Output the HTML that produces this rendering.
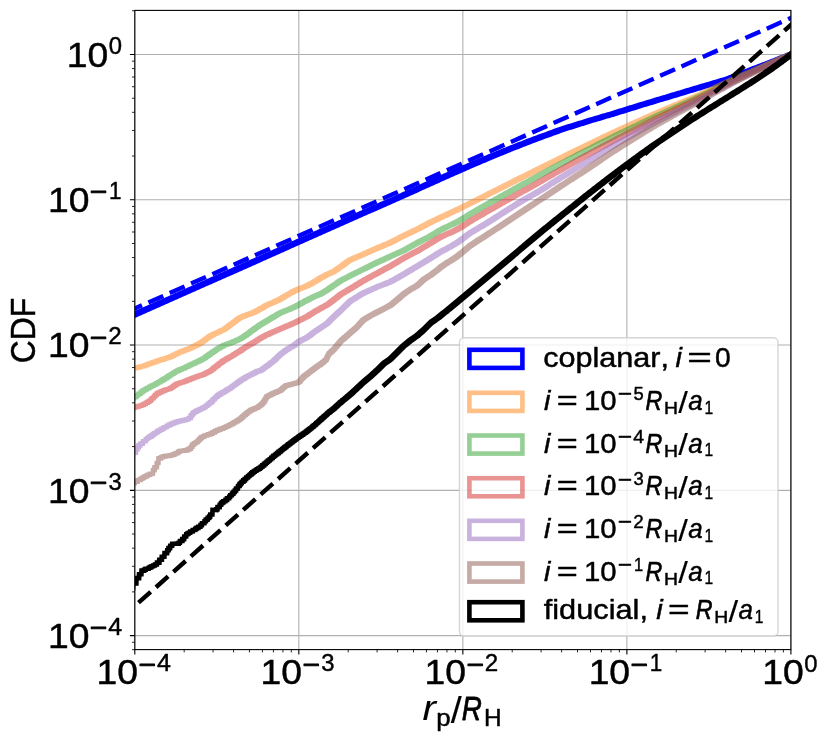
<!DOCTYPE html>
<html><head><meta charset="utf-8"><title>CDF of r_p/R_H</title>
<style>html,body{margin:0;padding:0;background:#fff}svg{display:block}</style></head>
<body>
<svg width="830" height="743" viewBox="0 0 830 743" font-family="'Liberation Sans', sans-serif" style="font-kerning:none;will-change:transform">
<rect width="830" height="743" fill="#fff"/>
<defs><clipPath id="ax"><rect x="134.8" y="10.4" width="656.10" height="639.20"/></clipPath></defs>
<path d="M134.80,10.4V649.6M134.8,635.60H790.9M298.82,10.4V649.6M134.8,490.33H790.9M462.85,10.4V649.6M134.8,345.05H790.9M626.88,10.4V649.6M134.8,199.78H790.9M790.90,10.4V649.6M134.8,54.50H790.9" stroke="#b0b0b0" stroke-width="1.1" fill="none"/>
<g clip-path="url(#ax)">
<polygon points="128.8,313.6 130.3,313.0 131.8,312.3 133.3,311.6 134.8,311.0 136.3,310.3 137.8,309.6 139.3,309.0 140.8,308.3 142.3,307.6 143.8,307.0 145.3,306.3 146.8,305.7 148.3,305.0 149.8,304.3 151.3,303.7 152.8,303.0 154.3,302.3 155.8,301.7 157.3,301.0 158.8,300.3 160.3,299.7 161.8,299.0 163.3,298.3 164.8,297.7 166.3,297.0 167.8,296.4 169.3,295.7 170.8,295.0 172.3,294.4 173.8,293.7 175.3,293.0 176.8,292.4 178.3,291.7 179.8,291.0 181.3,290.4 182.8,289.7 184.3,289.0 185.8,288.4 187.3,287.7 188.8,287.0 190.3,286.4 191.8,285.7 193.3,285.1 194.8,284.4 196.3,283.7 197.8,283.1 199.3,282.4 200.8,281.7 202.3,281.1 203.8,280.4 205.3,279.7 206.8,279.1 208.3,278.4 209.8,277.7 211.3,277.1 212.8,276.4 214.3,275.8 215.8,275.1 217.3,274.4 218.8,273.8 220.3,273.1 221.8,272.4 223.3,271.8 224.8,271.1 226.3,270.4 227.8,269.8 229.3,269.1 230.8,268.4 232.3,267.8 233.8,267.1 235.3,266.5 236.8,265.8 238.3,265.1 239.8,264.5 241.3,263.8 242.8,263.1 244.3,262.5 245.8,261.8 247.3,261.1 248.8,260.4 250.3,259.8 251.8,259.1 253.3,258.4 254.8,257.8 256.3,257.1 257.8,256.4 259.3,255.8 260.8,255.1 262.3,254.4 263.8,253.8 265.3,253.1 266.8,252.4 268.3,251.8 269.8,251.1 271.3,250.4 272.8,249.8 274.3,249.1 275.8,248.4 277.3,247.7 278.8,247.1 280.3,246.4 281.8,245.7 283.3,245.1 284.8,244.4 286.3,243.7 287.8,243.1 289.3,242.4 290.8,241.7 292.3,241.1 293.8,240.4 295.3,239.7 296.8,239.1 298.3,238.4 299.8,237.7 301.3,237.1 302.8,236.4 304.3,235.7 305.8,235.0 307.3,234.4 308.8,233.7 310.3,233.0 311.8,232.4 313.3,231.7 314.8,231.0 316.3,230.4 317.8,229.7 319.3,229.0 320.8,228.4 322.3,227.7 323.8,227.0 325.3,226.4 326.8,225.7 328.3,225.0 329.8,224.4 331.3,223.7 332.8,223.0 334.3,222.3 335.8,221.7 337.3,221.0 338.8,220.3 340.3,219.7 341.8,219.0 343.3,218.3 344.8,217.7 346.3,217.0 347.8,216.3 349.3,215.7 350.8,215.0 352.3,214.3 353.8,213.7 355.3,213.0 356.8,212.4 358.3,211.7 359.8,211.0 361.3,210.4 362.8,209.7 364.3,209.1 365.8,208.4 367.3,207.8 368.8,207.1 370.3,206.5 371.8,205.8 373.3,205.1 374.8,204.5 376.3,203.8 377.8,203.2 379.3,202.5 380.8,201.8 382.3,201.2 383.8,200.5 385.3,199.9 386.8,199.2 388.3,198.5 389.8,197.9 391.3,197.2 392.8,196.5 394.3,195.9 395.8,195.2 397.3,194.5 398.8,193.9 400.3,193.2 401.8,192.5 403.3,191.8 404.8,191.2 406.3,190.5 407.8,189.8 409.3,189.1 410.8,188.4 412.3,187.8 413.8,187.1 415.3,186.4 416.8,185.7 418.3,185.0 419.8,184.4 421.3,183.7 422.8,183.0 424.3,182.3 425.8,181.7 427.3,181.0 428.8,180.3 430.3,179.6 431.8,179.0 433.3,178.3 434.8,177.6 436.3,176.9 437.8,176.3 439.3,175.6 440.8,174.9 442.3,174.3 443.8,173.6 445.3,172.9 446.8,172.3 448.3,171.6 449.8,170.9 451.3,170.3 452.8,169.6 454.3,168.9 455.8,168.3 457.3,167.6 458.8,167.0 460.3,166.3 461.8,165.7 463.3,165.0 464.8,164.4 466.3,163.7 467.8,163.1 469.3,162.4 470.8,161.8 472.3,161.1 473.8,160.5 475.3,159.8 476.8,159.2 478.3,158.6 479.8,157.9 481.3,157.3 482.8,156.7 484.3,156.0 485.8,155.4 487.3,154.8 488.8,154.1 490.3,153.5 491.8,152.9 493.3,152.3 494.8,151.7 496.3,151.0 497.8,150.4 499.3,149.8 500.8,149.2 502.3,148.6 503.8,148.0 505.3,147.4 506.8,146.8 508.3,146.2 509.8,145.6 511.3,145.0 512.8,144.4 514.3,143.8 515.8,143.2 517.3,142.6 518.8,142.0 520.3,141.5 521.8,140.9 523.3,140.3 524.8,139.7 526.3,139.1 527.8,138.6 529.3,138.0 530.8,137.4 532.3,136.8 533.8,136.3 535.3,135.7 536.8,135.2 538.3,134.6 539.8,134.1 541.3,133.5 542.8,132.9 544.3,132.4 545.8,131.9 547.3,131.3 548.8,130.8 550.3,130.2 551.8,129.7 553.3,129.1 554.8,128.6 556.3,128.1 557.8,127.6 559.3,127.1 560.8,126.6 562.3,126.1 563.8,125.6 565.3,125.1 566.8,124.6 568.3,124.1 569.8,123.7 571.3,123.2 572.8,122.7 574.3,122.2 575.8,121.8 577.3,121.3 578.8,120.8 580.3,120.4 581.8,119.9 583.3,119.4 584.8,119.0 586.3,118.5 587.8,118.1 589.3,117.6 590.8,117.2 592.3,116.7 593.8,116.3 595.3,115.8 596.8,115.4 598.3,114.9 599.8,114.5 601.3,114.1 602.8,113.6 604.3,113.2 605.8,112.7 607.3,112.3 608.8,111.9 610.3,111.4 611.8,111.0 613.3,110.5 614.8,110.0 616.3,109.6 617.8,109.1 619.3,108.6 620.8,108.2 622.3,107.7 623.8,107.2 625.3,106.7 626.8,106.3 628.3,105.8 629.8,105.3 631.3,104.9 632.8,104.4 634.3,104.0 635.8,103.5 637.3,103.0 638.8,102.6 640.3,102.1 641.8,101.7 643.3,101.2 644.8,100.7 646.3,100.3 647.8,99.8 649.3,99.4 650.8,98.9 652.3,98.5 653.8,98.0 655.3,97.6 656.8,97.1 658.3,96.7 659.8,96.2 661.3,95.8 662.8,95.3 664.3,94.9 665.8,94.4 667.3,94.0 668.8,93.5 670.3,93.1 671.8,92.6 673.3,92.2 674.8,91.7 676.3,91.3 677.8,90.8 679.3,90.4 680.8,89.9 682.3,89.5 683.8,89.0 685.3,88.6 686.8,88.1 688.3,87.7 689.8,87.2 691.3,86.7 692.8,86.3 694.3,85.8 695.8,85.4 697.3,84.9 698.8,84.5 700.3,84.0 701.8,83.6 703.3,83.2 704.8,82.7 706.3,82.3 707.8,81.9 709.3,81.4 710.8,81.0 712.3,80.6 713.8,80.1 715.3,79.7 716.8,79.2 718.3,78.8 719.8,78.3 721.3,77.8 722.8,77.4 724.3,76.9 725.8,76.4 727.3,75.9 728.8,75.3 730.3,74.8 731.8,74.2 733.3,73.7 734.8,73.1 736.3,72.5 737.8,72.0 739.3,71.4 740.8,70.8 742.3,70.2 743.8,69.6 745.3,69.0 746.8,68.4 748.3,67.8 749.8,67.2 751.3,66.6 752.8,66.0 754.3,65.4 755.8,64.9 757.3,64.3 758.8,63.8 760.3,63.2 761.8,62.6 763.3,62.1 764.8,61.5 766.3,60.9 767.8,60.3 769.3,59.7 770.8,59.1 772.3,58.5 773.8,57.9 775.3,57.3 776.8,56.7 778.3,56.1 779.8,55.5 781.3,54.9 782.8,54.4 784.3,53.8 785.8,53.1 787.3,52.5 788.8,51.9 790.3,51.2 791.8,50.5 793.3,49.8 794.8,49.2 796.3,48.5 797.8,47.8 797.8,54.9 796.3,55.6 794.8,56.3 793.3,57.0 791.8,57.6 790.3,58.2 788.8,58.8 787.3,59.4 785.8,60.0 784.3,60.6 782.8,61.2 781.3,61.8 779.8,62.4 778.3,63.0 776.8,63.6 775.3,64.2 773.8,64.8 772.3,65.4 770.8,66.0 769.3,66.5 767.8,67.1 766.3,67.7 764.8,68.2 763.3,68.8 761.8,69.4 760.3,69.9 758.8,70.5 757.3,71.1 755.8,71.7 754.3,72.3 752.8,72.9 751.3,73.5 749.8,74.1 748.3,74.7 746.8,75.3 745.3,75.9 743.8,76.4 742.3,77.0 740.8,77.6 739.3,78.2 737.8,78.7 736.3,79.3 734.8,79.8 733.3,80.4 731.8,80.9 730.3,81.4 728.8,81.9 727.3,82.4 725.8,82.9 724.3,83.3 722.8,83.8 721.3,84.2 719.8,84.7 718.3,85.1 716.8,85.6 715.3,86.0 713.8,86.4 712.3,86.9 710.8,87.3 709.3,87.8 707.8,88.2 706.3,88.6 704.8,89.0 703.3,89.5 701.8,89.9 700.3,90.4 698.8,90.8 697.3,91.3 695.8,91.8 694.3,92.2 692.8,92.7 691.3,93.1 689.8,93.6 688.3,94.0 686.8,94.5 685.3,94.9 683.8,95.4 682.3,95.8 680.8,96.3 679.3,96.7 677.8,97.2 676.3,97.7 674.8,98.1 673.3,98.6 671.8,99.0 670.3,99.5 668.8,99.9 667.3,100.4 665.8,100.8 664.3,101.2 662.8,101.7 661.3,102.1 659.8,102.6 658.3,103.0 656.8,103.5 655.3,103.9 653.8,104.4 652.3,104.9 650.8,105.3 649.3,105.8 647.8,106.2 646.3,106.7 644.8,107.1 643.3,107.6 641.8,108.1 640.3,108.5 638.8,109.0 637.3,109.4 635.8,109.9 634.3,110.4 632.8,110.8 631.3,111.3 629.8,111.8 628.3,112.2 626.8,112.7 625.3,113.2 623.8,113.7 622.3,114.1 620.8,114.6 619.3,115.1 617.8,115.5 616.3,116.0 614.8,116.4 613.3,116.9 611.8,117.3 610.3,117.8 608.8,118.2 607.3,118.6 605.8,119.1 604.3,119.5 602.8,120.0 601.3,120.4 599.8,120.9 598.3,121.3 596.8,121.7 595.3,122.2 593.8,122.6 592.3,123.1 590.8,123.6 589.3,124.0 587.8,124.5 586.3,124.9 584.8,125.4 583.3,125.9 581.8,126.3 580.3,126.8 578.8,127.3 577.3,127.7 575.8,128.2 574.3,128.7 572.8,129.2 571.3,129.7 569.8,130.1 568.3,130.6 566.8,131.1 565.3,131.6 563.8,132.1 562.3,132.6 560.8,133.1 559.3,133.7 557.8,134.2 556.3,134.7 554.8,135.3 553.3,135.8 551.8,136.4 550.3,136.9 548.8,137.4 547.3,138.0 545.8,138.5 544.3,139.1 542.8,139.7 541.3,140.2 539.8,140.8 538.3,141.3 536.8,141.9 535.3,142.5 533.8,143.0 532.3,143.6 530.8,144.2 529.3,144.8 527.8,145.3 526.3,145.9 524.8,146.5 523.3,147.1 521.8,147.7 520.3,148.3 518.8,148.9 517.3,149.4 515.8,150.0 514.3,150.6 512.8,151.2 511.3,151.8 509.8,152.4 508.3,153.1 506.8,153.7 505.3,154.3 503.8,154.9 502.3,155.5 500.8,156.1 499.3,156.7 497.8,157.3 496.3,158.0 494.8,158.6 493.3,159.2 491.8,159.8 490.3,160.5 488.8,161.1 487.3,161.7 485.8,162.4 484.3,163.0 482.8,163.6 481.3,164.3 479.8,164.9 478.3,165.5 476.8,166.2 475.3,166.8 473.8,167.5 472.3,168.1 470.8,168.8 469.3,169.4 467.8,170.1 466.3,170.7 464.8,171.4 463.3,172.0 461.8,172.7 460.3,173.4 458.8,174.0 457.3,174.7 455.8,175.3 454.3,176.0 452.8,176.7 451.3,177.3 449.8,178.0 448.3,178.7 446.8,179.3 445.3,180.0 443.8,180.7 442.3,181.3 440.8,182.0 439.3,182.7 437.8,183.4 436.3,184.0 434.8,184.7 433.3,185.4 431.8,186.1 430.3,186.7 428.8,187.4 427.3,188.1 425.8,188.8 424.3,189.4 422.8,190.1 421.3,190.8 419.8,191.5 418.3,192.2 416.8,192.9 415.3,193.5 413.8,194.2 412.3,194.9 410.8,195.6 409.3,196.2 407.8,196.9 406.3,197.6 404.8,198.3 403.3,198.9 401.8,199.6 400.3,200.3 398.8,200.9 397.3,201.6 395.8,202.3 394.3,202.9 392.8,203.6 391.3,204.3 389.8,204.9 388.3,205.6 386.8,206.3 385.3,206.9 383.8,207.6 382.3,208.2 380.8,208.9 379.3,209.6 377.8,210.2 376.3,210.9 374.8,211.5 373.3,212.2 371.8,212.8 370.3,213.5 368.8,214.1 367.3,214.8 365.8,215.5 364.3,216.1 362.8,216.8 361.3,217.4 359.8,218.1 358.3,218.8 356.8,219.4 355.3,220.1 353.8,220.7 352.3,221.4 350.8,222.1 349.3,222.7 347.8,223.4 346.3,224.1 344.8,224.7 343.3,225.4 341.8,226.1 340.3,226.8 338.8,227.4 337.3,228.1 335.8,228.8 334.3,229.4 332.8,230.1 331.3,230.8 329.8,231.4 328.3,232.1 326.8,232.8 325.3,233.4 323.8,234.1 322.3,234.8 320.8,235.4 319.3,236.1 317.8,236.8 316.3,237.4 314.8,238.1 313.3,238.8 311.8,239.5 310.3,240.1 308.8,240.8 307.3,241.5 305.8,242.1 304.3,242.8 302.8,243.5 301.3,244.1 299.8,244.8 298.3,245.5 296.8,246.1 295.3,246.8 293.8,247.5 292.3,248.1 290.8,248.8 289.3,249.5 287.8,250.2 286.3,250.8 284.8,251.5 283.3,252.2 281.8,252.8 280.3,253.5 278.8,254.2 277.3,254.8 275.8,255.5 274.3,256.2 272.8,256.8 271.3,257.5 269.8,258.2 268.3,258.8 266.8,259.5 265.3,260.2 263.8,260.8 262.3,261.5 260.8,262.2 259.3,262.9 257.8,263.5 256.3,264.2 254.8,264.9 253.3,265.5 251.8,266.2 250.3,266.9 248.8,267.5 247.3,268.2 245.8,268.9 244.3,269.5 242.8,270.2 241.3,270.9 239.8,271.5 238.3,272.2 236.8,272.9 235.3,273.5 233.8,274.2 232.3,274.9 230.8,275.5 229.3,276.2 227.8,276.8 226.3,277.5 224.8,278.2 223.3,278.8 221.8,279.5 220.3,280.2 218.8,280.8 217.3,281.5 215.8,282.2 214.3,282.8 212.8,283.5 211.3,284.2 209.8,284.8 208.3,285.5 206.8,286.1 205.3,286.8 203.8,287.5 202.3,288.1 200.8,288.8 199.3,289.5 197.8,290.1 196.3,290.8 194.8,291.5 193.3,292.1 191.8,292.8 190.3,293.5 188.8,294.1 187.3,294.8 185.8,295.4 184.3,296.1 182.8,296.8 181.3,297.4 179.8,298.1 178.3,298.8 176.8,299.4 175.3,300.1 173.8,300.8 172.3,301.4 170.8,302.1 169.3,302.8 167.8,303.4 166.3,304.1 164.8,304.7 163.3,305.4 161.8,306.1 160.3,306.7 158.8,307.4 157.3,308.1 155.8,308.7 154.3,309.4 152.8,310.1 151.3,310.7 149.8,311.4 148.3,312.1 146.8,312.7 145.3,313.4 143.8,314.0 142.3,314.7 140.8,315.4 139.3,316.0 137.8,316.7 136.3,317.4 134.8,318.0 133.3,318.7 131.8,319.4 130.3,320.0 128.8,320.7" fill="#0000ff" fill-opacity="1"/>
<polygon points="128.8,367.0 129.1,366.5 130.6,366.5 130.8,366.0 132.8,366.0 133.1,365.6 134.3,365.6 134.6,365.1 136.8,365.1 137.1,364.6 138.1,364.6 138.3,364.2 140.3,364.2 140.6,363.7 142.3,363.7 142.6,363.0 144.1,363.0 144.3,362.4 145.3,362.4 145.6,362.0 146.3,362.0 146.6,361.6 148.1,361.6 148.3,361.0 149.3,361.0 149.6,360.6 150.3,360.6 150.6,360.1 152.3,360.1 152.6,359.3 154.6,359.3 154.8,358.6 156.3,358.6 156.6,358.0 158.1,358.0 158.3,357.6 159.1,357.6 159.3,357.3 160.1,357.3 160.3,356.8 162.1,356.8 162.3,356.4 163.1,356.4 163.3,355.9 164.8,355.9 165.1,355.5 165.8,355.5 166.1,355.1 167.3,355.1 167.6,354.7 168.3,354.7 168.6,354.1 169.8,354.1 170.1,353.4 171.1,353.4 171.3,352.7 172.6,352.7 172.8,352.1 173.6,352.1 173.8,351.4 175.1,351.4 175.3,350.7 176.8,350.7 177.1,349.8 178.6,349.8 178.8,349.3 179.6,349.3 179.8,348.8 180.8,348.8 181.1,348.4 181.8,348.4 182.1,348.1 182.8,348.1 183.1,347.7 183.8,347.7 184.1,347.3 184.6,347.3 184.8,347.0 185.6,347.0 185.8,346.7 186.6,346.7 186.8,346.2 187.8,346.2 188.1,345.8 188.8,345.8 189.1,345.2 190.1,345.2 190.3,344.6 191.1,344.6 191.3,344.0 192.6,344.0 192.8,343.3 193.8,343.3 194.1,342.8 194.6,342.8 194.8,342.3 195.8,342.3 196.1,341.8 196.8,341.8 197.1,341.2 198.1,341.2 198.3,340.3 199.6,340.3 199.8,339.2 201.1,339.2 201.3,338.2 202.3,338.2 202.6,337.3 203.6,337.3 203.8,336.5 204.6,336.5 204.8,335.7 205.8,335.7 206.1,334.8 207.1,334.8 207.3,333.9 208.1,333.9 208.3,333.3 209.3,333.3 209.6,332.8 210.3,332.8 210.6,332.3 211.3,332.3 211.6,331.7 212.6,331.7 212.8,331.3 213.3,331.3 213.6,330.9 214.3,330.9 214.6,330.4 215.3,330.4 215.6,329.9 216.3,329.9 216.6,329.4 217.3,329.4 217.6,329.0 218.1,329.0 218.3,328.6 218.8,328.6 219.1,328.2 220.1,328.2 220.3,327.7 221.1,327.7 221.3,327.2 222.3,327.2 222.6,326.4 223.3,326.4 223.6,325.5 224.6,325.5 224.8,324.8 225.3,324.8 225.6,324.3 226.1,324.3 226.3,323.8 226.6,323.8 226.8,323.2 227.6,323.2 227.8,322.5 228.3,322.5 228.6,322.0 229.1,322.0 229.3,321.4 230.1,321.4 230.3,320.8 230.8,320.8 231.1,320.3 231.3,320.3 231.6,319.7 232.3,319.7 232.6,318.9 233.3,318.9 233.6,318.3 234.1,318.3 234.3,317.7 234.8,317.7 235.1,317.1 235.8,317.1 236.1,316.5 236.6,316.5 236.8,315.9 237.3,315.9 237.6,315.3 238.3,315.3 238.6,315.0 238.8,315.0 239.1,314.7 239.8,314.7 240.1,314.4 240.3,314.4 240.6,314.1 241.1,314.1 241.3,313.8 241.6,313.8 241.8,313.6 242.3,313.6 242.6,313.3 243.3,313.3 243.6,312.9 243.8,312.9 244.1,312.7 244.6,312.7 244.8,312.4 245.3,312.4 245.6,312.1 246.1,312.1 246.3,311.9 246.6,311.9 246.8,311.7 247.6,311.7 247.8,311.4 248.3,311.4 248.6,311.2 248.8,311.2 249.1,311.1 249.3,311.0 249.6,310.9 249.8,310.8 250.1,310.7 250.3,310.6 250.6,310.6 250.6,310.5 252.1,309.8 253.6,309.0 255.1,308.2 256.6,307.4 258.1,306.6 259.6,305.7 261.1,304.9 262.6,304.0 264.1,303.1 265.6,302.4 267.1,301.8 268.6,301.1 270.1,300.5 271.6,299.9 273.1,299.1 274.6,298.4 276.1,297.7 277.6,297.0 279.1,296.2 280.6,295.3 282.1,294.3 283.6,293.4 285.1,292.5 286.6,291.7 288.1,290.9 289.6,290.0 291.1,289.2 292.6,288.5 294.1,287.8 295.6,287.2 297.1,286.5 298.6,285.9 300.1,285.4 301.6,284.8 303.1,284.2 304.6,283.6 306.1,282.8 307.6,282.1 309.1,281.3 310.6,280.5 312.1,279.6 313.6,278.7 315.1,277.7 316.6,276.8 318.1,275.8 319.6,275.0 321.1,274.2 322.6,273.4 324.1,272.6 325.6,271.9 327.1,271.2 328.6,270.5 330.1,269.8 331.6,269.2 333.1,268.2 334.6,267.1 336.1,266.0 337.6,264.9 339.1,263.9 340.6,262.8 342.1,261.7 343.6,260.6 345.1,259.5 346.6,258.5 348.1,257.5 349.6,256.9 351.1,256.2 352.6,255.6 354.1,255.0 355.6,254.3 357.1,253.7 358.6,253.1 360.1,252.4 361.6,251.8 363.1,251.1 364.6,250.4 366.1,249.8 367.6,249.1 369.1,248.4 370.6,247.8 372.1,247.1 373.6,246.4 375.1,245.8 376.6,245.1 378.1,244.5 379.6,243.9 381.1,243.3 382.6,242.6 384.1,242.0 385.6,241.4 387.1,240.8 388.6,240.1 390.1,239.3 391.6,238.5 393.1,237.7 394.6,237.0 396.1,236.2 397.6,235.4 399.1,234.6 400.6,233.9 402.1,233.1 403.6,232.4 405.1,231.7 406.6,231.0 408.1,230.3 409.6,229.6 411.1,228.8 412.6,228.1 414.1,227.4 415.6,226.7 417.1,225.9 418.6,225.1 420.1,224.3 421.6,223.5 423.1,222.7 424.6,221.9 426.1,221.1 427.6,220.3 429.1,219.6 430.6,218.9 432.1,218.1 433.6,217.4 435.1,216.7 436.6,216.0 438.1,215.3 439.6,214.6 441.1,213.9 442.6,213.2 444.1,212.5 445.6,211.8 447.1,211.1 448.6,210.4 450.1,209.7 451.6,209.0 453.1,208.3 454.6,207.6 456.1,206.9 457.6,206.2 459.1,205.4 460.6,204.7 462.1,204.0 463.6,203.2 465.1,202.4 466.6,201.7 468.1,200.9 469.6,200.2 471.1,199.4 472.6,198.7 474.1,197.9 475.6,197.2 477.1,196.4 478.6,195.7 480.1,194.9 481.6,194.2 483.1,193.4 484.6,192.7 486.1,191.9 487.6,191.1 489.1,190.4 490.6,189.6 492.1,188.9 493.6,188.1 495.1,187.4 496.6,186.6 498.1,185.9 499.6,185.1 501.1,184.4 502.6,183.6 504.1,182.9 505.6,182.1 507.1,181.4 508.6,180.6 510.1,179.9 511.6,179.1 513.1,178.3 514.6,177.6 516.1,176.8 517.6,176.1 519.1,175.3 520.6,174.6 522.1,173.9 523.6,173.1 525.1,172.4 526.6,171.6 528.1,170.9 529.6,170.1 531.1,169.4 532.6,168.6 534.1,167.9 535.6,167.1 537.1,166.4 538.6,165.6 540.1,164.9 541.6,164.1 543.1,163.4 544.6,162.6 546.1,161.9 547.6,161.1 549.1,160.4 550.6,159.7 552.1,158.9 553.6,158.2 555.1,157.4 556.6,156.7 558.1,155.9 559.6,155.2 561.1,154.5 562.6,153.7 564.1,153.0 565.6,152.3 567.1,151.5 568.6,150.8 570.1,150.0 571.6,149.3 573.1,148.6 574.6,147.9 576.1,147.1 577.6,146.4 579.1,145.7 580.6,144.9 582.1,144.2 583.6,143.5 585.1,142.8 586.6,142.0 588.1,141.3 589.6,140.6 591.1,139.9 592.6,139.2 594.1,138.4 595.6,137.7 597.1,137.0 598.6,136.3 600.1,135.6 601.6,134.8 603.1,134.1 604.6,133.4 606.1,132.7 607.6,132.0 609.1,131.3 610.6,130.6 612.1,129.9 613.6,129.2 615.1,128.5 616.6,127.8 618.1,127.1 619.6,126.4 621.1,125.7 622.6,125.0 624.1,124.4 625.6,123.7 627.1,123.0 628.6,122.3 630.1,121.6 631.6,121.0 633.1,120.3 634.6,119.6 636.1,118.9 637.6,118.3 639.1,117.6 640.6,116.9 642.1,116.2 643.6,115.6 645.1,114.9 646.6,114.2 648.1,113.5 649.6,112.9 651.1,112.2 652.6,111.5 654.1,110.9 655.6,110.2 657.1,109.6 658.6,109.0 660.1,108.3 661.6,107.7 663.1,107.1 664.6,106.4 666.1,105.8 667.6,105.2 669.1,104.5 670.6,103.9 672.1,103.3 673.6,102.6 675.1,102.0 676.6,101.4 678.1,100.8 679.6,100.1 681.1,99.5 682.6,98.9 684.1,98.2 685.6,97.6 687.1,97.0 688.6,96.4 690.1,95.7 691.6,95.1 693.1,94.4 694.6,93.8 696.1,93.1 697.6,92.4 699.1,91.7 700.6,91.0 702.1,90.3 703.6,89.6 705.1,88.9 706.6,88.2 708.1,87.5 709.6,86.9 711.1,86.2 712.6,85.5 714.1,84.8 715.6,84.1 717.1,83.4 718.6,82.7 720.1,82.0 721.6,81.3 723.1,80.7 724.6,80.0 726.1,79.3 727.6,78.6 729.1,78.0 730.6,77.3 732.1,76.6 733.6,76.0 735.1,75.3 736.6,74.7 738.1,74.1 739.6,73.4 741.1,72.8 742.6,72.1 744.1,71.5 745.6,70.8 747.1,70.2 748.6,69.5 750.1,68.9 751.6,68.3 753.1,67.6 754.6,67.0 756.1,66.3 757.6,65.7 759.1,65.0 760.6,64.4 762.1,63.7 763.6,63.0 765.1,62.4 766.6,61.7 768.1,61.1 769.6,60.4 771.1,59.8 772.6,59.2 774.1,58.5 775.6,57.9 777.1,57.2 778.6,56.6 780.1,55.9 781.6,55.3 783.1,54.6 784.6,53.9 786.1,53.3 787.6,52.6 789.1,52.0 790.6,51.4 792.1,50.8 793.6,50.2 795.1,49.6 796.6,49.0 798.1,48.4 798.1,54.8 796.6,55.4 795.1,56.0 793.6,56.6 792.1,57.3 790.6,57.9 789.1,58.6 787.6,59.2 786.1,59.9 784.6,60.6 783.1,61.2 781.6,61.9 780.1,62.5 778.6,63.2 777.1,63.8 775.6,64.4 774.1,65.1 772.6,65.7 771.1,66.4 769.6,67.0 768.1,67.7 766.6,68.3 765.1,69.0 763.6,69.7 762.1,70.3 760.6,71.0 759.1,71.6 757.6,72.3 756.1,72.9 754.6,73.5 753.1,74.2 751.6,74.8 750.1,75.5 748.6,76.1 747.1,76.8 745.6,77.4 744.1,78.0 742.6,78.7 741.1,79.3 739.6,80.0 738.1,80.6 736.6,81.3 735.1,81.9 733.6,82.6 732.1,83.3 730.6,83.9 729.1,84.6 727.6,85.3 726.1,86.0 724.6,86.7 723.1,87.4 721.6,88.0 720.1,88.7 718.6,89.4 717.1,90.1 715.6,90.8 714.1,91.5 712.6,92.2 711.1,92.9 709.6,93.6 708.1,94.3 706.6,95.0 705.1,95.7 703.6,96.3 702.1,97.0 700.6,97.7 699.1,98.4 697.6,99.1 696.1,99.7 694.6,100.4 693.1,101.0 691.6,101.6 690.1,102.3 688.6,102.9 687.1,103.5 685.6,104.1 684.1,104.8 682.6,105.4 681.1,106.0 679.6,106.7 678.1,107.3 676.6,107.9 675.1,108.6 673.6,109.2 672.1,109.8 670.6,110.4 669.1,111.1 667.6,111.7 666.1,112.3 664.6,113.0 663.1,113.6 661.6,114.2 660.1,114.9 658.6,115.5 657.1,116.2 655.6,116.8 654.1,117.5 652.6,118.2 651.1,118.8 649.6,119.5 648.1,120.2 646.6,120.9 645.1,121.5 643.6,122.2 642.1,122.9 640.6,123.6 639.1,124.2 637.6,124.9 636.1,125.6 634.6,126.3 633.1,127.0 631.6,127.6 630.1,128.3 628.6,129.0 627.1,129.7 625.6,130.4 624.1,131.1 622.6,131.7 621.1,132.4 619.6,133.1 618.1,133.8 616.6,134.5 615.1,135.2 613.6,135.9 612.1,136.6 610.6,137.4 609.1,138.1 607.6,138.8 606.1,139.5 604.6,140.2 603.1,140.9 601.6,141.6 600.1,142.4 598.6,143.1 597.1,143.8 595.6,144.5 594.1,145.2 592.6,146.0 591.1,146.7 589.6,147.4 588.1,148.1 586.6,148.9 585.1,149.6 583.6,150.3 582.1,151.0 580.6,151.8 579.1,152.5 577.6,153.2 576.1,154.0 574.6,154.7 573.1,155.4 571.6,156.2 570.1,156.9 568.6,157.6 567.1,158.4 565.6,159.1 564.1,159.8 562.6,160.6 561.1,161.3 559.6,162.1 558.1,162.8 556.6,163.6 555.1,164.3 553.6,165.0 552.1,165.8 550.6,166.5 549.1,167.3 547.6,168.0 546.1,168.8 544.6,169.5 543.1,170.3 541.6,171.0 540.1,171.8 538.6,172.5 537.1,173.3 535.6,174.0 534.1,174.8 532.6,175.5 531.1,176.3 529.6,177.0 528.1,177.8 526.6,178.5 525.1,179.3 523.6,180.0 522.1,180.7 520.6,181.5 519.1,182.2 517.6,183.0 516.1,183.8 514.6,184.5 513.1,185.3 511.6,186.0 510.1,186.8 508.6,187.5 507.1,188.3 505.6,189.0 504.1,189.8 502.6,190.5 501.1,191.3 499.6,192.0 498.1,192.8 496.6,193.5 495.1,194.3 493.6,195.0 492.1,195.8 490.6,196.6 489.1,197.3 487.6,198.1 486.1,198.8 484.6,199.6 483.1,200.3 481.6,201.1 480.1,201.8 478.6,202.6 477.1,203.3 475.6,204.1 474.1,204.8 472.6,205.6 471.1,206.3 469.6,207.1 468.1,207.8 466.6,208.6 465.1,209.3 463.6,210.1 462.1,210.8 460.6,211.5 459.1,212.3 457.6,212.9 456.1,213.6 454.6,214.3 453.1,215.0 451.6,215.8 450.1,216.5 448.6,217.2 447.1,217.9 445.6,218.6 444.1,219.3 442.6,219.9 441.1,220.6 439.6,221.4 438.1,222.1 436.6,222.8 435.1,223.5 433.6,224.2 432.1,225.0 430.6,225.8 429.1,226.6 427.6,227.4 426.1,228.2 424.6,229.0 423.1,229.8 421.6,230.5 420.1,231.3 418.6,232.1 417.1,232.8 415.6,233.5 414.1,234.2 412.6,234.9 411.1,235.6 409.6,236.3 408.1,237.0 406.6,237.7 405.1,238.5 403.6,239.3 402.1,240.1 400.6,240.8 399.1,241.6 397.6,242.4 396.1,243.2 394.6,243.9 393.1,244.7 391.6,245.4 390.1,246.0 388.6,246.6 387.1,247.3 385.6,247.9 384.1,248.5 382.6,249.2 381.1,249.8 379.6,250.4 378.1,251.1 376.6,251.7 375.1,252.4 373.6,253.1 372.1,253.7 370.6,254.4 369.1,255.1 367.6,255.7 366.1,256.4 364.6,257.1 363.1,257.7 361.6,258.3 360.1,259.0 358.6,259.6 357.1,260.2 355.6,260.9 354.1,261.5 352.6,262.2 351.1,263.1 349.6,264.2 348.1,265.3 346.6,266.4 345.1,267.5 343.6,268.5 342.1,269.6 340.6,270.7 339.1,271.8 337.6,272.8 336.1,273.8 334.6,274.5 333.1,275.2 331.6,275.8 330.1,276.5 328.6,277.3 327.1,278.1 325.6,278.9 324.1,279.7 322.6,280.5 321.1,281.5 319.6,282.4 318.1,283.3 316.6,284.3 315.1,285.1 313.6,285.9 312.1,286.7 310.6,287.5 309.1,288.2 307.6,288.8 306.1,289.4 304.6,290.0 303.1,290.6 301.6,291.2 300.1,291.8 298.6,292.5 297.1,293.1 295.6,293.9 294.1,294.7 292.6,295.5 291.1,296.3 289.6,297.2 288.1,298.1 286.6,299.0 285.1,299.9 283.6,300.8 282.1,301.7 280.6,302.4 279.1,303.1 277.6,303.8 276.1,304.5 274.6,305.1 273.1,305.8 271.6,306.4 270.1,307.1 268.6,307.8 267.1,308.7 265.6,309.5 264.1,310.4 262.6,311.3 261.1,312.1 259.6,312.9 258.1,313.7 256.6,314.5 255.1,315.2 253.6,315.7 252.1,316.3 250.6,316.7 250.3,316.7 250.1,317.0 249.3,317.0 249.1,317.3 248.8,317.3 248.6,317.5 248.1,317.5 247.8,317.9 247.3,317.9 247.1,318.2 246.6,318.2 246.3,318.4 246.1,318.4 245.8,318.7 245.3,318.7 245.1,319.0 244.6,319.0 244.3,319.3 243.8,319.3 243.6,319.6 243.1,319.6 242.8,319.9 242.1,319.9 241.8,320.5 241.6,320.5 241.3,321.1 240.6,321.1 240.3,321.7 239.8,321.7 239.6,322.3 238.8,322.3 238.6,322.9 238.1,322.9 237.8,323.5 237.1,323.5 236.8,324.3 236.1,324.3 235.8,324.9 235.6,324.9 235.3,325.4 234.8,325.4 234.6,326.0 233.8,326.0 233.6,326.6 233.3,326.6 233.1,327.1 232.6,327.1 232.3,327.8 231.6,327.8 231.3,328.4 230.8,328.4 230.6,328.9 230.1,328.9 229.8,329.4 229.3,329.4 229.1,330.1 228.3,330.1 228.1,331.0 227.1,331.0 226.8,331.8 226.1,331.8 225.8,332.3 224.8,332.3 224.6,332.8 223.8,332.8 223.6,333.2 223.1,333.2 222.8,333.6 222.1,333.6 221.8,334.0 221.3,334.0 221.1,334.5 220.1,334.5 219.8,335.0 219.1,335.0 218.8,335.5 218.3,335.5 218.1,335.9 217.3,335.9 217.1,336.3 216.1,336.3 215.8,336.9 215.3,336.9 215.1,337.4 214.1,337.4 213.8,337.9 213.1,337.9 212.8,338.5 212.1,338.5 211.8,339.4 210.6,339.4 210.3,340.3 209.3,340.3 209.1,341.1 208.3,341.1 208.1,341.9 207.3,341.9 207.1,342.8 205.8,342.8 205.6,343.8 204.3,343.8 204.1,344.9 202.8,344.9 202.6,345.8 201.6,345.8 201.3,346.4 200.8,346.4 200.6,346.9 199.6,346.9 199.3,347.4 198.8,347.4 198.6,347.9 197.6,347.9 197.3,348.6 196.1,348.6 195.8,349.2 195.1,349.2 194.8,349.8 193.6,349.8 193.3,350.4 192.8,350.4 192.6,350.8 191.3,350.8 191.1,351.3 190.6,351.3 190.3,351.6 189.6,351.6 189.3,351.9 188.6,351.9 188.3,352.3 187.6,352.3 187.3,352.7 186.8,352.7 186.6,353.0 185.8,353.0 185.6,353.4 184.6,353.4 184.3,353.9 183.3,353.9 183.1,354.4 181.6,354.4 181.3,355.3 180.1,355.3 179.8,356.0 178.6,356.0 178.3,356.7 177.3,356.7 177.1,357.3 176.1,357.3 175.8,358.0 174.8,358.0 174.6,358.7 173.3,358.7 173.1,359.3 172.1,359.3 171.8,359.7 170.6,359.7 170.3,360.1 169.8,360.1 169.6,360.5 167.8,360.5 167.6,361.0 166.8,361.0 166.6,361.4 165.1,361.4 164.8,361.9 164.1,361.9 163.8,362.2 163.1,362.2 162.8,362.6 161.1,362.6 160.8,363.2 159.3,363.2 159.1,363.9 157.3,363.9 157.1,364.7 155.3,364.7 155.1,365.2 154.3,365.2 154.1,365.6 152.8,365.6 152.6,366.2 151.3,366.2 151.1,366.6 150.1,366.6 149.8,367.0 149.1,367.0 148.8,367.6 147.3,367.6 147.1,368.3 145.1,368.3 144.8,368.8 143.1,368.8 142.8,369.2 141.6,369.2 141.3,369.7 139.3,369.7 139.1,370.2 137.8,370.2 137.6,370.6 135.3,370.6 135.1,371.1 133.6,371.1 133.3,371.6 131.8,371.6 131.6,372.1 129.3,372.1 129.1,372.6 128.8,372.6" fill="#ff7f0e" fill-opacity="0.5"/>
<polygon points="128.8,397.0 129.6,397.0 129.8,395.9 131.8,395.9 132.1,394.6 134.1,394.6 134.3,393.0 136.1,393.0 136.3,391.4 138.3,391.4 138.6,389.8 140.1,389.8 140.3,388.6 141.3,388.6 141.6,387.7 143.1,387.7 143.3,386.8 144.6,386.8 144.8,385.8 146.8,385.8 147.1,384.7 148.3,384.7 148.6,384.0 149.3,384.0 149.6,383.3 151.3,383.3 151.6,382.4 152.8,382.4 153.1,381.8 153.8,381.8 154.1,381.0 155.6,381.0 155.8,379.9 157.6,379.9 157.8,378.9 159.1,378.9 159.3,378.1 160.3,378.1 160.6,377.1 162.3,377.1 162.6,375.9 164.1,375.9 164.3,374.9 165.3,374.9 165.6,374.1 166.6,374.1 166.8,373.2 168.3,373.2 168.6,372.2 169.6,372.2 169.8,371.4 171.1,371.4 171.3,370.4 172.8,370.4 173.1,369.2 174.8,369.2 175.1,368.3 176.3,368.3 176.6,367.7 177.3,367.7 177.6,367.1 179.3,367.1 179.6,366.5 180.6,366.5 180.8,365.9 182.1,365.9 182.3,365.2 183.6,365.2 183.8,364.5 185.1,364.5 185.3,363.8 186.6,363.8 186.8,363.2 187.3,363.2 187.6,362.7 188.6,362.7 188.8,362.2 189.8,362.2 190.1,361.5 191.6,361.5 191.8,360.8 192.6,360.8 192.8,360.2 194.1,360.2 194.3,359.5 195.8,359.5 196.1,358.9 196.6,358.9 196.8,358.3 197.8,358.3 198.1,357.8 199.1,357.8 199.3,357.2 200.1,357.2 200.3,356.5 201.6,356.5 201.8,355.9 202.3,355.9 202.6,355.3 203.3,355.3 203.6,354.6 204.1,354.6 204.3,354.0 205.1,354.0 205.3,353.3 206.1,353.3 206.3,352.5 207.1,352.5 207.3,351.8 208.3,351.8 208.6,351.0 209.3,351.0 209.6,350.3 210.3,350.3 210.6,349.5 211.6,349.5 211.8,348.9 212.3,348.9 212.6,348.3 213.3,348.3 213.6,347.7 214.1,347.7 214.3,347.0 215.3,347.0 215.6,346.2 216.6,346.2 216.8,345.6 217.3,345.6 217.6,345.0 218.8,345.0 219.1,344.3 219.8,344.3 220.1,343.7 221.1,343.7 221.3,343.0 222.3,343.0 222.6,342.7 223.1,342.7 223.3,342.4 223.8,342.4 224.1,342.0 225.1,342.0 225.3,341.7 225.8,341.7 226.1,341.3 226.8,341.3 227.1,341.0 227.8,341.0 228.1,340.7 228.6,340.7 228.8,340.3 229.8,340.3 230.1,339.9 230.6,339.9 230.8,339.6 231.3,339.6 231.6,339.2 232.1,339.2 232.3,338.9 232.8,338.9 233.1,338.6 233.8,338.6 234.1,338.1 234.8,338.1 235.1,337.8 235.6,337.8 235.8,337.4 236.3,337.4 236.6,337.0 237.3,337.0 237.6,336.5 238.3,336.5 238.6,336.0 239.1,336.0 239.3,335.4 240.1,335.4 240.3,334.9 240.8,334.9 241.1,334.4 241.6,334.4 241.8,334.0 242.3,334.0 242.6,333.6 242.8,333.6 243.1,333.1 243.6,333.1 243.8,332.6 244.6,332.6 244.8,332.0 245.3,332.0 245.6,331.4 246.1,331.4 246.3,330.7 246.8,330.7 247.1,330.2 247.6,330.2 247.8,329.6 248.3,329.6 248.6,329.0 249.1,329.0 249.3,328.5 249.8,328.5 250.1,327.8 250.8,327.8 251.1,327.3 251.3,327.3 251.6,326.8 252.1,326.8 252.3,326.3 252.8,326.3 253.1,325.8 253.3,325.8 253.6,325.4 254.1,325.4 254.3,324.9 254.8,324.9 255.1,324.4 255.6,324.4 255.8,323.8 256.3,323.8 256.6,323.3 257.1,323.3 257.3,323.0 257.6,323.0 257.8,322.6 258.1,322.6 258.3,322.3 258.6,322.2 258.8,322.0 259.1,321.9 259.3,321.7 259.6,321.6 259.8,321.4 260.1,321.3 260.3,321.1 260.5,321.0 262.0,320.1 263.5,319.2 265.0,318.3 266.5,317.4 268.0,316.5 269.5,315.6 271.0,314.7 272.5,313.9 274.0,313.0 275.5,312.1 277.0,311.2 278.5,310.4 280.0,309.8 281.5,309.2 283.0,308.6 284.5,308.0 286.0,307.4 287.5,306.7 289.0,306.1 290.5,305.4 292.0,304.7 293.5,304.0 295.0,303.2 296.5,302.4 298.0,301.6 299.5,300.8 301.0,300.0 302.5,299.1 304.0,298.3 305.5,297.5 307.0,296.7 308.5,296.0 310.0,295.2 311.5,294.5 313.0,293.8 314.5,293.2 316.0,292.6 317.5,292.0 319.0,291.3 320.5,290.4 322.0,289.5 323.5,288.6 325.0,287.7 326.5,286.6 328.0,285.6 329.5,284.5 331.0,283.5 332.5,282.4 334.0,281.4 335.5,280.3 337.0,279.3 338.5,278.3 340.0,277.5 341.5,276.7 343.0,275.9 344.5,275.2 346.0,274.4 347.5,273.6 349.0,272.9 350.5,272.1 352.0,271.4 353.5,270.6 355.0,269.9 356.5,269.2 358.0,268.4 359.5,267.7 361.0,266.9 362.5,266.2 364.0,265.5 365.5,264.7 367.0,264.0 368.5,263.2 370.0,262.5 371.5,261.8 373.0,261.0 374.5,260.3 376.0,259.6 377.5,258.9 379.0,258.2 380.5,257.6 382.0,256.9 383.5,256.2 385.0,255.5 386.5,254.8 388.0,254.2 389.5,253.5 391.0,252.8 392.5,252.1 394.0,251.4 395.5,250.8 397.0,250.1 398.5,249.4 400.0,248.7 401.5,248.1 403.0,247.2 404.5,246.4 406.0,245.6 407.5,244.7 409.0,243.9 410.5,243.0 412.0,242.2 413.5,241.4 415.0,240.5 416.5,239.8 418.0,239.0 419.5,238.2 421.0,237.5 422.5,236.7 424.0,235.9 425.5,235.2 427.0,234.4 428.5,233.6 430.0,232.7 431.5,231.8 433.0,230.9 434.5,230.0 436.0,229.0 437.5,228.1 439.0,227.4 440.5,226.6 442.0,225.8 443.5,225.1 445.0,224.4 446.5,223.7 448.0,223.0 449.5,222.3 451.0,221.5 452.5,220.8 454.0,220.0 455.5,219.3 457.0,218.4 458.5,217.5 460.0,216.7 461.5,215.8 463.0,214.9 464.5,213.9 466.0,213.0 467.5,212.1 469.0,211.2 470.5,210.3 472.0,209.4 473.5,208.5 475.0,207.7 476.5,206.8 478.0,205.9 479.5,205.1 481.0,204.2 482.5,203.4 484.0,202.5 485.5,201.7 487.0,200.8 488.5,200.0 490.0,199.1 491.5,198.3 493.0,197.4 494.5,196.6 496.0,195.7 497.5,194.9 499.0,194.1 500.5,193.2 502.0,192.4 503.5,191.5 505.0,190.7 506.5,189.9 508.0,189.0 509.5,188.2 511.0,187.4 512.5,186.6 514.0,185.7 515.5,184.9 517.0,184.1 518.5,183.3 520.0,182.4 521.5,181.6 523.0,180.8 524.5,180.0 526.0,179.2 527.5,178.4 529.0,177.6 530.5,176.7 532.0,175.9 533.5,175.1 535.0,174.3 536.5,173.5 538.0,172.6 539.5,171.8 541.0,171.0 542.5,170.2 544.0,169.4 545.5,168.6 547.0,167.7 548.5,166.9 550.0,166.1 551.5,165.3 553.0,164.5 554.5,163.7 556.0,162.9 557.5,162.1 559.0,161.3 560.5,160.5 562.0,159.7 563.5,158.9 565.0,158.1 566.5,157.3 568.0,156.5 569.5,155.8 571.0,155.0 572.5,154.2 574.0,153.4 575.5,152.6 577.0,151.8 578.5,151.1 580.0,150.3 581.5,149.5 583.0,148.7 584.5,148.0 586.0,147.2 587.5,146.4 589.0,145.7 590.5,144.9 592.0,144.1 593.5,143.4 595.0,142.6 596.5,141.8 598.0,141.1 599.5,140.3 601.0,139.6 602.5,138.8 604.0,138.1 605.5,137.3 607.0,136.5 608.5,135.8 610.0,135.0 611.5,134.3 613.0,133.5 614.5,132.8 616.0,132.1 617.5,131.3 619.0,130.6 620.5,129.9 622.0,129.2 623.5,128.4 625.0,127.7 626.5,127.0 628.0,126.3 629.5,125.6 631.0,124.8 632.5,124.1 634.0,123.4 635.5,122.7 637.0,122.0 638.5,121.2 640.0,120.5 641.5,119.8 643.0,119.1 644.5,118.4 646.0,117.6 647.5,116.9 649.0,116.2 650.5,115.5 652.0,114.8 653.5,114.1 655.0,113.4 656.5,112.7 658.0,112.1 659.5,111.4 661.0,110.7 662.5,110.0 664.0,109.4 665.5,108.7 667.0,108.0 668.5,107.3 670.0,106.7 671.5,106.0 673.0,105.3 674.5,104.6 676.0,104.0 677.5,103.3 679.0,102.6 680.5,101.9 682.0,101.3 683.5,100.6 685.0,99.9 686.5,99.2 688.0,98.6 689.5,97.9 691.0,97.2 692.5,96.5 694.0,95.8 695.5,95.1 697.0,94.3 698.5,93.6 700.0,92.9 701.5,92.1 703.0,91.4 704.5,90.7 706.0,89.9 707.5,89.2 709.0,88.4 710.5,87.7 712.0,87.0 713.5,86.2 715.0,85.5 716.5,84.8 718.0,84.1 719.5,83.3 721.0,82.6 722.5,81.9 724.0,81.1 725.5,80.4 727.0,79.7 728.5,79.0 730.0,78.3 731.5,77.6 733.0,76.9 734.5,76.2 736.0,75.5 737.5,74.8 739.0,74.1 740.5,73.5 742.0,72.8 743.5,72.1 745.0,71.4 746.5,70.7 748.0,70.1 749.5,69.4 751.0,68.7 752.5,68.1 754.0,67.4 755.5,66.7 757.0,66.0 758.5,65.3 760.0,64.7 761.5,64.0 763.0,63.3 764.5,62.6 766.0,62.0 767.5,61.3 769.0,60.7 770.5,60.0 772.0,59.3 773.5,58.7 775.0,58.0 776.5,57.4 778.0,56.7 779.5,56.1 781.0,55.4 782.5,54.8 784.0,54.1 785.5,53.5 787.0,52.9 788.5,52.2 790.0,51.6 791.5,51.1 793.0,50.5 794.5,49.9 796.0,49.3 797.5,48.7 797.5,55.1 796.0,55.7 794.5,56.3 793.0,56.9 791.5,57.5 790.0,58.1 788.5,58.8 787.0,59.4 785.5,60.1 784.0,60.7 782.5,61.4 781.0,62.0 779.5,62.7 778.0,63.3 776.5,64.0 775.0,64.6 773.5,65.3 772.0,66.0 770.5,66.6 769.0,67.3 767.5,68.0 766.0,68.6 764.5,69.3 763.0,70.0 761.5,70.7 760.0,71.4 758.5,72.0 757.0,72.7 755.5,73.4 754.0,74.0 752.5,74.7 751.0,75.4 749.5,76.1 748.0,76.7 746.5,77.4 745.0,78.1 743.5,78.8 742.0,79.5 740.5,80.2 739.0,80.9 737.5,81.5 736.0,82.2 734.5,82.9 733.0,83.6 731.5,84.3 730.0,85.1 728.5,85.8 727.0,86.5 725.5,87.2 724.0,88.0 722.5,88.7 721.0,89.4 719.5,90.2 718.0,90.9 716.5,91.6 715.0,92.4 713.5,93.1 712.0,93.8 710.5,94.6 709.0,95.3 707.5,96.0 706.0,96.8 704.5,97.5 703.0,98.3 701.5,99.0 700.0,99.7 698.5,100.4 697.0,101.1 695.5,101.8 694.0,102.5 692.5,103.2 691.0,103.9 689.5,104.6 688.0,105.2 686.5,105.9 685.0,106.6 683.5,107.3 682.0,107.9 680.5,108.6 679.0,109.3 677.5,110.0 676.0,110.6 674.5,111.3 673.0,112.0 671.5,112.7 670.0,113.3 668.5,114.0 667.0,114.7 665.5,115.4 664.0,116.0 662.5,116.7 661.0,117.4 659.5,118.1 658.0,118.7 656.5,119.5 655.0,120.2 653.5,120.9 652.0,121.6 650.5,122.3 649.0,123.0 647.5,123.7 646.0,124.4 644.5,125.2 643.0,125.9 641.5,126.6 640.0,127.3 638.5,128.0 637.0,128.8 635.5,129.5 634.0,130.2 632.5,130.9 631.0,131.6 629.5,132.4 628.0,133.1 626.5,133.8 625.0,134.5 623.5,135.3 622.0,136.0 620.5,136.7 619.0,137.5 617.5,138.2 616.0,138.9 614.5,139.7 613.0,140.4 611.5,141.2 610.0,141.9 608.5,142.7 607.0,143.5 605.5,144.2 604.0,145.0 602.5,145.7 601.0,146.5 599.5,147.2 598.0,148.0 596.5,148.8 595.0,149.5 593.5,150.3 592.0,151.1 590.5,151.8 589.0,152.6 587.5,153.4 586.0,154.2 584.5,154.9 583.0,155.7 581.5,156.5 580.0,157.3 578.5,158.1 577.0,158.8 575.5,159.6 574.0,160.4 572.5,161.2 571.0,162.0 569.5,162.8 568.0,163.6 566.5,164.4 565.0,165.2 563.5,166.0 562.0,166.8 560.5,167.6 559.0,168.4 557.5,169.2 556.0,170.0 554.5,170.8 553.0,171.6 551.5,172.4 550.0,173.2 548.5,174.0 547.0,174.8 545.5,175.7 544.0,176.5 542.5,177.3 541.0,178.1 539.5,179.0 538.0,179.8 536.5,180.6 535.0,181.4 533.5,182.2 532.0,183.0 530.5,183.8 529.0,184.6 527.5,185.5 526.0,186.3 524.5,187.1 523.0,187.9 521.5,188.7 520.0,189.5 518.5,190.4 517.0,191.2 515.5,192.0 514.0,192.9 512.5,193.7 511.0,194.5 509.5,195.4 508.0,196.2 506.5,197.0 505.0,197.9 503.5,198.7 502.0,199.6 500.5,200.4 499.0,201.2 497.5,202.1 496.0,202.9 494.5,203.8 493.0,204.6 491.5,205.5 490.0,206.3 488.5,207.2 487.0,208.0 485.5,208.9 484.0,209.7 482.5,210.6 481.0,211.5 479.5,212.3 478.0,213.2 476.5,214.1 475.0,215.0 473.5,215.8 472.0,216.7 470.5,217.7 469.0,218.6 467.5,219.5 466.0,220.4 464.5,221.3 463.0,222.2 461.5,223.1 460.0,223.9 458.5,224.7 457.0,225.4 455.5,226.2 454.0,226.9 452.5,227.6 451.0,228.3 449.5,229.0 448.0,229.7 446.5,230.5 445.0,231.2 443.5,232.0 442.0,232.8 440.5,233.7 439.0,234.6 437.5,235.5 436.0,236.5 434.5,237.4 433.0,238.3 431.5,239.1 430.0,239.8 428.5,240.6 427.0,241.4 425.5,242.1 424.0,242.9 422.5,243.7 421.0,244.4 419.5,245.2 418.0,246.0 416.5,246.9 415.0,247.7 413.5,248.5 412.0,249.4 410.5,250.2 409.0,251.0 407.5,251.9 406.0,252.7 404.5,253.4 403.0,254.1 401.5,254.7 400.0,255.4 398.5,256.1 397.0,256.8 395.5,257.4 394.0,258.1 392.5,258.8 391.0,259.5 389.5,260.2 388.0,260.8 386.5,261.5 385.0,262.2 383.5,262.9 382.0,263.6 380.5,264.2 379.0,264.9 377.5,265.7 376.0,266.4 374.5,267.1 373.0,267.9 371.5,268.6 370.0,269.4 368.5,270.1 367.0,270.9 365.5,271.6 364.0,272.3 362.5,273.1 361.0,273.8 359.5,274.6 358.0,275.3 356.5,276.0 355.0,276.8 353.5,277.5 352.0,278.3 350.5,279.0 349.0,279.8 347.5,280.6 346.0,281.4 344.5,282.1 343.0,282.9 341.5,284.0 340.0,285.0 338.5,286.1 337.0,287.1 335.5,288.1 334.0,289.2 332.5,290.3 331.0,291.3 329.5,292.3 328.0,293.2 326.5,294.1 325.0,295.1 323.5,296.0 322.0,296.7 320.5,297.3 319.0,297.9 317.5,298.5 316.0,299.1 314.5,299.9 313.0,300.6 311.5,301.4 310.0,302.2 308.5,303.0 307.0,303.8 305.5,304.6 304.0,305.4 302.5,306.3 301.0,307.1 299.5,307.9 298.0,308.6 296.5,309.4 295.0,310.1 293.5,310.7 292.0,311.4 290.5,312.0 289.0,312.6 287.5,313.2 286.0,313.8 284.5,314.4 283.0,315.0 281.5,315.8 280.0,316.7 278.5,317.6 277.0,318.5 275.5,319.4 274.0,320.3 272.5,321.2 271.0,322.1 269.5,323.0 268.0,323.9 266.5,324.8 265.0,325.7 263.5,326.6 262.0,327.6 260.5,328.4 260.3,329.0 259.6,329.0 259.3,329.5 258.8,329.5 258.6,330.0 258.3,330.0 258.1,330.4 257.6,330.4 257.3,330.9 257.1,330.9 256.8,331.4 256.1,331.4 255.8,331.9 255.6,331.9 255.3,332.4 254.8,332.4 254.6,333.1 253.8,333.1 253.6,333.6 253.3,333.6 253.1,334.2 252.3,334.2 252.1,334.8 251.8,334.8 251.6,335.3 250.8,335.3 250.6,336.0 250.1,336.0 249.8,336.6 249.3,336.6 249.1,337.2 248.6,337.2 248.3,337.7 247.6,337.7 247.3,338.2 247.1,338.2 246.8,338.6 246.3,338.6 246.1,339.0 245.6,339.0 245.3,339.5 245.1,339.5 244.8,340.0 244.1,340.0 243.8,340.6 243.3,340.6 243.1,341.1 242.3,341.1 242.1,341.6 241.3,341.6 241.1,342.0 240.3,342.0 240.1,342.4 239.6,342.4 239.3,342.7 238.6,342.7 238.3,343.2 237.6,343.2 237.3,343.5 237.1,343.5 236.8,343.8 236.3,343.8 236.1,344.2 235.3,344.2 235.1,344.5 234.6,344.5 234.3,344.9 233.3,344.9 233.1,345.3 232.6,345.3 232.3,345.6 231.8,345.6 231.6,345.9 230.6,345.9 230.3,346.3 229.8,346.3 229.6,346.6 228.6,346.6 228.3,347.0 227.8,347.0 227.6,347.3 227.1,347.3 226.8,347.6 225.8,347.6 225.6,348.3 224.8,348.3 224.6,348.9 223.6,348.9 223.3,349.6 222.3,349.6 222.1,350.2 221.6,350.2 221.3,350.8 220.1,350.8 219.8,351.6 218.8,351.6 218.6,352.3 218.1,352.3 217.8,352.9 217.1,352.9 216.8,353.5 216.3,353.5 216.1,354.1 215.3,354.1 215.1,354.9 214.1,354.9 213.8,355.6 213.1,355.6 212.8,356.4 212.1,356.4 211.8,357.1 211.1,357.1 210.8,357.9 209.8,357.9 209.6,358.6 209.1,358.6 208.8,359.2 208.1,359.2 207.8,359.9 207.1,359.9 206.8,360.5 206.3,360.5 206.1,361.1 205.1,361.1 204.8,361.8 203.8,361.8 203.6,362.4 202.8,362.4 202.6,362.9 201.6,362.9 201.3,363.5 200.6,363.5 200.3,364.1 199.1,364.1 198.8,364.8 197.6,364.8 197.3,365.4 196.3,365.4 196.1,366.1 194.8,366.1 194.6,366.8 193.3,366.8 193.1,367.3 192.3,367.3 192.1,367.8 191.3,367.8 191.1,368.4 189.8,368.4 189.6,369.1 188.3,369.1 188.1,369.8 187.1,369.8 186.8,370.5 185.3,370.5 185.1,371.1 184.1,371.1 183.8,371.7 182.3,371.7 182.1,372.3 181.3,372.3 181.1,372.9 179.6,372.9 179.3,373.8 177.6,373.8 177.3,375.0 175.8,375.0 175.6,376.0 174.3,376.0 174.1,376.8 173.1,376.8 172.8,377.8 171.3,377.8 171.1,378.7 170.3,378.7 170.1,379.5 169.1,379.5 168.8,380.5 167.3,380.5 167.1,381.7 165.3,381.7 165.1,382.7 163.8,382.7 163.6,383.5 162.6,383.5 162.3,384.5 160.6,384.5 160.3,385.6 158.8,385.6 158.6,386.4 157.6,386.4 157.3,387.0 156.1,387.0 155.8,387.9 154.3,387.9 154.1,388.6 153.3,388.6 153.1,389.3 151.6,389.3 151.3,390.4 149.3,390.4 149.1,391.4 147.8,391.4 147.6,392.3 146.3,392.3 146.1,393.2 144.8,393.2 144.6,394.4 143.1,394.4 142.8,396.0 140.8,396.0 140.6,397.6 138.8,397.6 138.6,399.2 136.6,399.2 136.3,400.5 134.3,400.5 134.1,401.6 132.8,401.6 132.6,402.3 131.8,402.3 131.6,403.2 129.6,403.2 129.3,404.3 128.8,404.3" fill="#2ca02c" fill-opacity="0.5"/>
<polygon points="128.8,406.4 129.6,406.4 129.8,405.7 131.8,405.7 132.1,405.2 132.8,405.2 133.1,404.7 134.8,404.7 135.1,404.1 136.6,404.1 136.8,403.4 139.1,403.4 139.3,402.7 141.1,402.7 141.3,401.7 143.3,401.7 143.6,400.5 145.1,400.5 145.3,399.4 146.8,399.4 147.1,398.5 148.3,398.5 148.6,397.4 149.3,397.4 149.6,395.9 151.3,395.9 151.6,394.2 152.6,394.2 152.8,392.7 154.3,392.7 154.6,391.3 155.8,391.3 156.1,390.6 157.1,390.6 157.3,389.8 159.1,389.8 159.3,388.8 161.3,388.8 161.6,388.1 162.1,388.1 162.3,387.8 163.3,387.8 163.6,387.5 164.6,387.5 164.8,387.0 166.8,387.0 167.1,386.5 167.8,386.5 168.1,385.7 169.6,385.7 169.8,384.7 170.8,384.7 171.1,383.7 172.3,383.7 172.6,382.6 174.1,382.6 174.3,381.4 176.1,381.4 176.3,380.9 177.3,380.9 177.6,380.6 178.3,380.6 178.6,380.2 180.1,380.2 180.3,379.7 181.6,379.7 181.8,379.2 183.1,379.2 183.3,378.6 184.6,378.6 184.8,378.1 185.3,378.1 185.6,377.6 187.3,377.6 187.6,377.0 188.1,377.0 188.3,376.6 189.6,376.6 189.8,376.1 190.6,376.1 190.8,375.7 191.3,375.7 191.6,375.2 192.8,375.2 193.1,374.8 193.8,374.8 194.1,374.4 194.8,374.4 195.1,373.9 196.1,373.9 196.3,373.5 197.8,373.5 198.1,373.1 198.8,373.1 199.1,372.7 200.1,372.7 200.3,372.2 201.6,372.2 201.8,371.7 202.6,371.7 202.8,371.2 203.6,371.2 203.8,370.7 204.6,370.7 204.8,370.0 206.1,370.0 206.3,369.4 206.8,369.4 207.1,368.9 208.1,368.9 208.3,368.2 209.3,368.2 209.6,367.4 210.1,367.4 210.3,366.6 211.1,366.6 211.3,365.6 212.6,365.6 212.8,364.6 213.8,364.6 214.1,363.6 215.3,363.6 215.6,362.6 216.3,362.6 216.6,361.6 217.8,361.6 218.1,360.5 219.3,360.5 219.6,359.6 220.1,359.6 220.3,358.8 221.3,358.8 221.6,357.9 222.8,357.9 223.1,357.2 223.8,357.2 224.1,356.6 224.8,356.6 225.1,356.2 225.3,356.2 225.6,355.8 226.1,355.8 226.3,355.4 226.8,355.4 227.1,355.0 227.6,355.0 227.8,354.5 228.8,354.5 229.1,353.9 229.8,353.9 230.1,353.2 230.8,353.2 231.1,352.6 231.8,352.6 232.1,352.0 232.8,352.0 233.1,351.2 234.1,351.2 234.3,350.6 234.8,350.6 235.1,350.0 236.1,350.0 236.3,349.4 236.8,349.4 237.1,348.9 237.6,348.9 237.8,348.4 238.3,348.4 238.6,347.8 239.3,347.8 239.6,347.1 240.3,347.1 240.6,346.5 241.3,346.5 241.6,346.0 242.1,346.0 242.3,345.5 242.6,345.5 242.8,345.0 243.6,345.0 243.8,344.5 244.3,344.5 244.6,343.9 245.3,343.9 245.6,343.4 246.1,343.4 246.3,342.9 247.1,342.9 247.3,342.5 247.6,342.5 247.8,342.1 248.3,342.1 248.6,341.7 249.1,341.7 249.3,341.3 249.8,341.3 250.1,340.8 250.6,340.8 250.8,340.4 251.3,340.4 251.6,340.0 252.1,340.0 252.3,339.5 252.8,339.5 253.1,339.1 253.3,339.1 253.6,338.7 254.1,338.7 254.3,338.3 254.8,338.3 255.1,337.8 255.6,337.8 255.8,337.2 256.6,337.2 256.8,336.7 257.1,336.7 257.3,336.2 258.1,336.2 258.3,335.8 258.6,335.8 258.8,335.4 259.3,335.4 259.6,335.0 260.1,335.0 260.3,334.7 260.6,334.7 260.8,334.3 261.3,334.3 261.6,333.9 262.1,333.9 262.3,333.5 262.8,333.5 263.1,333.2 263.3,333.2 263.6,332.9 264.1,332.9 264.3,332.4 264.8,332.4 265.1,332.1 265.8,332.1 266.1,331.8 266.6,331.8 266.8,331.4 267.1,331.4 267.3,331.1 267.8,331.1 268.1,330.9 268.3,330.8 268.6,330.7 268.8,330.6 269.1,330.5 269.3,330.4 269.6,330.3 269.8,330.2 270.1,330.1 270.3,330.0 271.8,329.3 273.3,328.7 274.8,328.0 276.3,327.3 277.8,326.7 279.3,326.0 280.8,325.4 282.3,324.8 283.8,324.1 285.3,323.5 286.8,322.9 288.3,322.3 289.8,321.6 291.3,321.0 292.8,320.3 294.3,319.5 295.8,318.7 297.3,318.0 298.8,317.2 300.3,316.5 301.8,315.7 303.3,315.0 304.8,314.2 306.3,313.3 307.8,312.3 309.3,311.4 310.8,310.4 312.3,309.5 313.8,308.6 315.3,307.8 316.8,307.0 318.3,306.1 319.8,305.3 321.3,304.5 322.8,303.7 324.3,302.8 325.8,301.9 327.3,300.8 328.8,299.6 330.3,298.5 331.8,297.3 333.3,296.2 334.8,295.0 336.3,293.8 337.8,292.6 339.3,291.6 340.8,290.7 342.3,289.8 343.8,288.9 345.3,288.0 346.8,287.1 348.3,286.3 349.8,285.3 351.3,284.4 352.8,283.5 354.3,282.6 355.8,281.7 357.3,280.8 358.8,279.8 360.3,278.9 361.8,278.1 363.3,277.2 364.8,276.4 366.3,275.6 367.8,274.8 369.3,274.0 370.8,273.2 372.3,272.3 373.8,271.5 375.3,270.7 376.8,269.9 378.3,269.1 379.8,268.3 381.3,267.5 382.8,266.6 384.3,265.8 385.8,265.0 387.3,264.2 388.8,263.4 390.3,262.5 391.8,261.6 393.3,260.7 394.8,259.8 396.3,258.9 397.8,258.0 399.3,257.1 400.8,256.2 402.3,255.3 403.8,254.5 405.3,253.8 406.8,253.0 408.3,252.2 409.8,251.4 411.3,250.6 412.8,249.9 414.3,249.1 415.8,248.3 417.3,247.4 418.8,246.5 420.3,245.6 421.8,244.7 423.3,243.8 424.8,242.9 426.3,242.0 427.8,241.1 429.3,240.2 430.8,239.3 432.3,238.4 433.8,237.5 435.3,236.6 436.8,235.7 438.3,234.8 439.8,234.1 441.3,233.4 442.8,232.7 444.3,232.0 445.8,231.3 447.3,230.7 448.8,230.1 450.3,229.4 451.8,228.6 453.3,227.9 454.8,227.1 456.3,226.3 457.8,225.4 459.3,224.5 460.8,223.6 462.3,222.7 463.8,221.7 465.3,220.7 466.8,219.7 468.3,218.7 469.8,217.8 471.3,216.9 472.8,216.1 474.3,215.2 475.8,214.3 477.3,213.4 478.8,212.6 480.3,211.7 481.8,210.8 483.3,210.0 484.8,209.1 486.3,208.3 487.8,207.4 489.3,206.6 490.8,205.7 492.3,204.9 493.8,204.0 495.3,203.2 496.8,202.3 498.3,201.5 499.8,200.6 501.3,199.8 502.8,198.9 504.3,198.1 505.8,197.2 507.3,196.4 508.8,195.5 510.3,194.7 511.8,193.9 513.3,193.0 514.8,192.2 516.3,191.4 517.8,190.5 519.3,189.7 520.8,188.9 522.3,188.0 523.8,187.2 525.3,186.4 526.8,185.6 528.3,184.7 529.8,183.9 531.3,183.1 532.8,182.3 534.3,181.4 535.8,180.5 537.3,179.6 538.8,178.8 540.3,177.9 541.8,177.0 543.3,176.2 544.8,175.3 546.3,174.4 547.8,173.6 549.3,172.7 550.8,171.8 552.3,171.0 553.8,170.1 555.3,169.3 556.8,168.4 558.3,167.6 559.8,166.7 561.3,165.9 562.8,165.0 564.3,164.2 565.8,163.3 567.3,162.5 568.8,161.7 570.3,160.8 571.8,160.0 573.3,159.1 574.8,158.3 576.3,157.5 577.8,156.6 579.3,155.8 580.8,155.0 582.3,154.2 583.8,153.3 585.3,152.5 586.8,151.7 588.3,150.9 589.8,150.0 591.3,149.2 592.8,148.4 594.3,147.6 595.8,146.8 597.3,146.0 598.8,145.2 600.3,144.3 601.8,143.5 603.3,142.7 604.8,141.9 606.3,141.1 607.8,140.3 609.3,139.5 610.8,138.7 612.3,137.9 613.8,137.1 615.3,136.3 616.8,135.5 618.3,134.8 619.8,134.0 621.3,133.2 622.8,132.4 624.3,131.6 625.8,130.9 627.3,130.1 628.8,129.3 630.3,128.6 631.8,127.8 633.3,127.0 634.8,126.2 636.3,125.5 637.8,124.7 639.3,123.9 640.8,123.2 642.3,122.4 643.8,121.6 645.3,120.9 646.8,120.1 648.3,119.3 649.8,118.6 651.3,117.8 652.8,117.1 654.3,116.3 655.8,115.6 657.3,114.9 658.8,114.2 660.3,113.5 661.8,112.7 663.3,112.0 664.8,111.3 666.3,110.6 667.8,109.9 669.3,109.2 670.8,108.5 672.3,107.8 673.8,107.0 675.3,106.3 676.8,105.6 678.3,104.9 679.8,104.2 681.3,103.5 682.8,102.8 684.3,102.1 685.8,101.4 687.3,100.7 688.8,99.9 690.3,99.2 691.8,98.5 693.3,97.8 694.8,97.0 696.3,96.3 697.8,95.5 699.3,94.7 700.8,94.0 702.3,93.2 703.8,92.4 705.3,91.7 706.8,90.9 708.3,90.1 709.8,89.4 711.3,88.6 712.8,87.8 714.3,87.1 715.8,86.3 717.3,85.5 718.8,84.8 720.3,84.0 721.8,83.3 723.3,82.5 724.8,81.8 726.3,81.0 727.8,80.3 729.3,79.6 730.8,78.8 732.3,78.1 733.8,77.4 735.3,76.7 736.8,76.0 738.3,75.2 739.8,74.5 741.3,73.8 742.8,73.1 744.3,72.4 745.8,71.7 747.3,71.0 748.8,70.3 750.3,69.6 751.8,68.9 753.3,68.2 754.8,67.5 756.3,66.8 757.8,66.1 759.3,65.4 760.8,64.7 762.3,64.0 763.8,63.3 765.3,62.6 766.8,61.9 768.3,61.3 769.8,60.6 771.3,59.9 772.8,59.2 774.3,58.6 775.8,57.9 777.3,57.2 778.8,56.6 780.3,55.9 781.8,55.2 783.3,54.6 784.8,53.9 786.3,53.2 787.8,52.6 789.3,51.9 790.8,51.3 792.3,50.7 793.8,50.1 795.3,49.6 796.8,49.0 798.3,48.4 798.3,54.8 796.8,55.4 795.3,56.0 793.8,56.6 792.3,57.2 790.8,57.9 789.3,58.5 787.8,59.2 786.3,59.9 784.8,60.5 783.3,61.2 781.8,61.9 780.3,62.5 778.8,63.2 777.3,63.9 775.8,64.6 774.3,65.2 772.8,65.9 771.3,66.6 769.8,67.3 768.3,68.0 766.8,68.7 765.3,69.4 763.8,70.1 762.3,70.8 760.8,71.5 759.3,72.2 757.8,72.9 756.3,73.6 754.8,74.3 753.3,75.0 751.8,75.7 750.3,76.4 748.8,77.1 747.3,77.8 745.8,78.5 744.3,79.2 742.8,79.9 741.3,80.6 739.8,81.3 738.3,82.0 736.8,82.7 735.3,83.5 733.8,84.2 732.3,84.9 730.8,85.7 729.3,86.4 727.8,87.2 726.3,87.9 724.8,88.7 723.3,89.4 721.8,90.2 720.3,91.0 718.8,91.7 717.3,92.5 715.8,93.2 714.3,94.0 712.8,94.8 711.3,95.5 709.8,96.3 708.3,97.1 706.8,97.8 705.3,98.6 703.8,99.4 702.3,100.1 700.8,100.9 699.3,101.7 697.8,102.4 696.3,103.1 694.8,103.9 693.3,104.6 691.8,105.3 690.3,106.0 688.8,106.7 687.3,107.4 685.8,108.1 684.3,108.8 682.8,109.6 681.3,110.3 679.8,111.0 678.3,111.7 676.8,112.4 675.3,113.1 673.8,113.8 672.3,114.5 670.8,115.2 669.3,116.0 667.8,116.7 666.3,117.4 664.8,118.1 663.3,118.8 661.8,119.5 660.3,120.2 658.8,121.0 657.3,121.7 655.8,122.5 654.3,123.2 652.8,124.0 651.3,124.7 649.8,125.5 648.3,126.3 646.8,127.0 645.3,127.8 643.8,128.6 642.3,129.3 640.8,130.1 639.3,130.9 637.8,131.7 636.3,132.4 634.8,133.2 633.3,134.0 631.8,134.8 630.3,135.5 628.8,136.3 627.3,137.1 625.8,137.8 624.3,138.6 622.8,139.4 621.3,140.2 619.8,141.0 618.3,141.8 616.8,142.5 615.3,143.3 613.8,144.1 612.3,145.0 610.8,145.8 609.3,146.6 607.8,147.4 606.3,148.2 604.8,149.0 603.3,149.8 601.8,150.6 600.3,151.4 598.8,152.2 597.3,153.1 595.8,153.9 594.3,154.7 592.8,155.5 591.3,156.3 589.8,157.2 588.3,158.0 586.8,158.8 585.3,159.6 583.8,160.5 582.3,161.3 580.8,162.1 579.3,163.0 577.8,163.8 576.3,164.6 574.8,165.5 573.3,166.3 571.8,167.1 570.3,168.0 568.8,168.8 567.3,169.7 565.8,170.5 564.3,171.4 562.8,172.2 561.3,173.1 559.8,173.9 558.3,174.8 556.8,175.6 555.3,176.5 553.8,177.4 552.3,178.2 550.8,179.1 549.3,180.0 547.8,180.8 546.3,181.7 544.8,182.6 543.3,183.4 541.8,184.3 540.3,185.2 538.8,186.1 537.3,186.9 535.8,187.7 534.3,188.6 532.8,189.4 531.3,190.2 529.8,191.0 528.3,191.9 526.8,192.7 525.3,193.5 523.8,194.3 522.3,195.2 520.8,196.0 519.3,196.8 517.8,197.7 516.3,198.5 514.8,199.4 513.3,200.2 511.8,201.0 510.3,201.9 508.8,202.7 507.3,203.6 505.8,204.4 504.3,205.3 502.8,206.1 501.3,207.0 499.8,207.8 498.3,208.7 496.8,209.5 495.3,210.4 493.8,211.2 492.3,212.1 490.8,212.9 489.3,213.8 487.8,214.6 486.3,215.5 484.8,216.4 483.3,217.2 481.8,218.1 480.3,219.0 478.8,219.8 477.3,220.7 475.8,221.6 474.3,222.5 472.8,223.4 471.3,224.3 469.8,225.3 468.3,226.3 466.8,227.3 465.3,228.3 463.8,229.2 462.3,230.1 460.8,231.0 459.3,231.8 457.8,232.5 456.3,233.3 454.8,234.1 453.3,234.7 451.8,235.4 450.3,236.0 448.8,236.6 447.3,237.3 445.8,238.0 444.3,238.8 442.8,239.5 441.3,240.3 439.8,241.2 438.3,242.1 436.8,243.0 435.3,243.9 433.8,244.8 432.3,245.7 430.8,246.6 429.3,247.5 427.8,248.4 426.3,249.3 424.8,250.2 423.3,251.1 421.8,252.0 420.3,252.9 418.8,253.7 417.3,254.5 415.8,255.3 414.3,256.1 412.8,256.9 411.3,257.6 409.8,258.4 408.3,259.2 406.8,260.0 405.3,260.8 403.8,261.7 402.3,262.6 400.8,263.5 399.3,264.4 397.8,265.3 396.3,266.2 394.8,267.1 393.3,268.0 391.8,268.9 390.3,269.7 388.8,270.5 387.3,271.3 385.8,272.1 384.3,272.9 382.8,273.7 381.3,274.5 379.8,275.4 378.3,276.2 376.8,277.0 375.3,277.8 373.8,278.6 372.3,279.4 370.8,280.3 369.3,281.1 367.8,281.9 366.3,282.7 364.8,283.6 363.3,284.5 361.8,285.4 360.3,286.3 358.8,287.3 357.3,288.2 355.8,289.1 354.3,290.0 352.8,290.9 351.3,291.8 349.8,292.7 348.3,293.6 346.8,294.4 345.3,295.3 343.8,296.2 342.3,297.3 340.8,298.5 339.3,299.7 337.8,300.8 336.3,302.0 334.8,303.2 333.3,304.3 331.8,305.4 330.3,306.6 328.8,307.5 327.3,308.3 325.8,309.1 324.3,310.0 322.8,310.8 321.3,311.6 319.8,312.4 318.3,313.3 316.8,314.1 315.3,315.0 313.8,316.0 312.3,317.0 310.8,318.0 309.3,318.9 307.8,319.6 306.3,320.4 304.8,321.1 303.3,321.9 301.8,322.6 300.3,323.4 298.8,324.1 297.3,324.9 295.8,325.6 294.3,326.3 292.8,326.9 291.3,327.5 289.8,328.2 288.3,328.8 286.8,329.4 285.3,330.1 283.8,330.7 282.3,331.3 280.8,332.0 279.3,332.6 277.8,333.3 276.3,334.0 274.8,334.6 273.3,335.3 271.8,336.0 270.3,336.7 269.8,336.7 269.6,337.0 268.8,337.0 268.6,337.5 268.3,337.5 268.1,337.8 267.6,337.8 267.3,338.1 267.1,338.1 266.8,338.5 266.3,338.5 266.1,338.9 265.3,338.9 265.1,339.3 264.8,339.3 264.6,339.6 264.3,339.6 264.1,340.0 263.6,340.0 263.3,340.4 262.8,340.4 262.6,340.8 262.1,340.8 261.8,341.3 261.3,341.3 261.1,341.8 260.3,341.8 260.1,342.4 259.6,342.4 259.3,342.9 258.8,342.9 258.6,343.3 258.3,343.3 258.1,343.7 257.6,343.7 257.3,344.1 257.1,344.1 256.8,344.6 256.1,344.6 255.8,345.0 255.6,345.0 255.3,345.4 254.6,345.4 254.3,345.9 253.8,345.9 253.6,346.3 253.1,346.3 252.8,346.7 252.6,346.7 252.3,347.1 251.8,347.1 251.6,347.5 250.8,347.5 250.6,348.0 250.1,348.0 249.8,348.5 249.3,348.5 249.1,349.1 248.3,349.1 248.1,349.6 247.6,349.6 247.3,350.1 246.8,350.1 246.6,350.6 246.1,350.6 245.8,351.1 245.3,351.1 245.1,351.7 244.3,351.7 244.1,352.4 243.3,352.4 243.1,353.0 242.6,353.0 242.3,353.5 241.6,353.5 241.3,354.0 240.8,354.0 240.6,354.6 239.6,354.6 239.3,355.2 238.8,355.2 238.6,355.8 237.8,355.8 237.6,356.6 236.6,356.6 236.3,357.2 235.8,357.2 235.6,357.8 234.6,357.8 234.3,358.5 233.6,358.5 233.3,359.1 232.6,359.1 232.3,359.6 231.8,359.6 231.6,360.0 231.1,360.0 230.8,360.4 230.3,360.4 230.1,360.8 229.6,360.8 229.3,361.2 228.8,361.2 228.6,361.8 227.6,361.8 227.3,362.5 226.3,362.5 226.1,363.4 225.1,363.4 224.8,364.2 224.1,364.2 223.8,365.1 222.6,365.1 222.3,366.2 221.1,366.2 220.8,367.2 220.1,367.2 219.8,368.2 218.6,368.2 218.3,369.2 217.3,369.2 217.1,370.2 216.1,370.2 215.8,371.2 214.8,371.2 214.6,372.0 214.1,372.0 213.8,372.8 212.8,372.8 212.6,373.5 211.8,373.5 211.6,374.0 211.1,374.0 210.8,374.6 209.3,374.6 209.1,375.3 208.3,375.3 208.1,375.8 207.3,375.8 207.1,376.3 206.6,376.3 206.3,376.8 205.1,376.8 204.8,377.3 203.8,377.3 203.6,377.7 202.6,377.7 202.3,378.1 201.1,378.1 200.8,378.5 199.8,378.5 199.6,379.0 198.6,379.0 198.3,379.4 197.6,379.4 197.3,379.8 196.3,379.8 196.1,380.3 195.3,380.3 195.1,380.7 194.3,380.7 194.1,381.2 193.1,381.2 192.8,381.6 192.1,381.6 191.8,382.2 190.1,382.2 189.8,382.7 189.3,382.7 189.1,383.2 187.8,383.2 187.6,383.8 186.6,383.8 186.3,384.3 185.1,384.3 184.8,384.8 183.1,384.8 182.8,385.2 182.3,385.2 182.1,385.5 180.8,385.5 180.6,386.0 179.1,386.0 178.8,387.2 177.1,387.2 176.8,388.3 175.8,388.3 175.6,389.3 174.3,389.3 174.1,390.3 172.8,390.3 172.6,391.1 171.6,391.1 171.3,391.6 169.3,391.6 169.1,392.1 168.1,392.1 167.8,392.4 167.1,392.4 166.8,392.7 166.1,392.7 165.8,393.4 164.1,393.4 163.8,394.4 162.1,394.4 161.8,395.2 160.8,395.2 160.6,395.9 159.1,395.9 158.8,397.3 157.6,397.3 157.3,398.8 156.1,398.8 155.8,400.5 154.1,400.5 153.8,402.0 153.1,402.0 152.8,403.1 151.8,403.1 151.6,404.0 150.1,404.0 149.8,405.1 148.1,405.1 147.8,406.3 146.1,406.3 145.8,407.3 143.8,407.3 143.6,408.0 141.6,408.0 141.3,408.7 139.8,408.7 139.6,409.3 137.6,409.3 137.3,409.8 136.6,409.8 136.3,410.3 134.6,410.3 134.3,411.0 132.6,411.0 132.3,411.6 130.8,411.6 130.6,412.2 128.8,412.2" fill="#d62728" fill-opacity="0.5"/>
<polygon points="128.8,453.9 130.3,453.9 130.6,450.3 133.3,450.3 133.6,447.2 135.1,447.2 135.3,445.2 136.1,445.2 136.3,443.1 138.1,443.1 138.3,441.3 140.6,441.3 140.8,439.0 143.3,439.0 143.6,436.9 145.1,436.9 145.3,435.5 146.8,435.5 147.1,434.3 148.8,434.3 149.1,433.1 150.6,433.1 150.8,432.1 151.6,432.1 151.8,431.0 153.8,431.0 154.1,429.7 155.3,429.7 155.6,428.6 157.3,428.6 157.6,427.5 159.1,427.5 159.3,426.6 160.8,426.6 161.1,425.8 161.8,425.8 162.1,424.9 164.3,424.9 164.6,423.5 166.6,423.5 166.8,422.3 168.8,422.3 169.1,421.3 171.1,421.3 171.3,420.6 172.8,420.6 173.1,419.8 175.3,419.8 175.6,419.1 177.6,419.1 177.8,418.6 179.6,418.6 179.8,418.1 182.1,418.1 182.3,417.6 183.6,417.6 183.8,417.2 184.6,417.2 184.8,416.9 186.3,416.9 186.6,415.7 188.3,415.7 188.6,413.1 190.1,413.1 190.3,411.1 191.1,411.1 191.3,410.2 192.6,410.2 192.8,409.3 194.1,409.3 194.3,408.3 195.8,408.3 196.1,407.7 197.1,407.7 197.3,407.0 198.6,407.0 198.8,406.4 199.8,406.4 200.1,405.7 201.6,405.7 201.8,404.7 203.3,404.7 203.6,403.4 205.1,403.4 205.3,402.2 206.3,402.2 206.6,401.2 207.6,401.2 207.8,399.8 209.6,399.8 209.8,398.3 210.6,398.3 210.8,397.0 212.3,397.0 212.6,395.7 213.3,395.7 213.6,394.4 214.8,394.4 215.1,393.3 215.8,393.3 216.1,392.5 217.3,392.5 217.6,391.8 218.3,391.8 218.6,391.0 219.8,391.0 220.1,390.1 221.6,390.1 221.8,389.2 222.8,389.2 223.1,388.4 224.1,388.4 224.3,387.6 225.6,387.6 225.8,387.0 226.3,387.0 226.6,386.3 227.8,386.3 228.1,385.5 229.1,385.5 229.3,384.6 230.3,384.6 230.6,383.5 231.8,383.5 232.1,382.5 233.1,382.5 233.3,381.5 234.6,381.5 234.8,380.7 235.3,380.7 235.6,379.8 236.8,379.8 237.1,378.6 238.6,378.6 238.8,377.8 239.3,377.8 239.6,377.2 240.6,377.2 240.8,376.3 242.1,376.3 242.3,375.6 243.1,375.6 243.3,374.8 244.6,374.8 244.8,374.2 245.3,374.2 245.6,373.7 246.6,373.7 246.8,373.0 248.1,373.0 248.3,372.5 249.1,372.5 249.3,371.8 250.6,371.8 250.8,371.1 251.8,371.1 252.1,370.4 252.8,370.4 253.1,369.8 254.1,369.8 254.3,369.2 255.1,369.2 255.3,368.8 256.6,368.8 256.8,368.6 257.8,368.6 258.1,368.0 259.1,368.0 259.3,367.4 259.8,367.4 260.1,366.7 260.8,366.7 261.1,366.0 262.1,366.0 262.3,365.2 263.1,365.2 263.3,364.5 263.8,364.5 264.1,363.9 264.8,363.9 265.1,363.1 266.1,363.1 266.3,362.3 267.1,362.3 267.3,361.5 268.1,361.5 268.3,360.6 269.3,360.6 269.6,359.9 270.1,359.9 270.3,359.2 270.8,359.2 271.1,358.6 271.8,358.6 272.1,357.6 273.1,357.6 273.3,356.7 273.6,356.7 273.8,355.8 274.8,355.8 275.1,354.7 275.8,354.7 276.1,353.9 276.6,353.9 276.8,353.0 277.8,353.0 278.1,352.1 278.6,352.1 278.8,351.5 279.1,351.5 279.3,351.0 279.8,351.0 280.1,350.5 280.6,350.5 280.8,349.9 281.6,349.9 281.8,349.1 282.6,349.1 282.8,348.5 283.1,348.5 283.3,347.9 284.1,347.9 284.3,347.3 285.1,347.3 285.3,346.7 285.8,346.7 286.1,346.3 286.6,346.3 286.8,345.8 287.3,345.8 287.6,345.4 288.1,345.4 288.3,345.0 288.8,345.0 289.1,344.6 289.3,344.6 289.6,344.2 290.3,344.2 290.6,343.8 291.1,343.8 291.3,343.4 291.6,343.4 291.8,342.8 292.6,342.8 292.8,342.1 293.3,342.1 293.6,341.4 294.3,341.4 294.6,340.7 295.1,340.7 295.3,340.0 295.8,340.0 296.1,339.5 296.6,339.5 296.8,339.1 297.3,339.1 297.6,338.6 298.3,338.6 298.6,338.2 298.8,338.2 299.1,337.9 299.6,337.9 299.8,337.5 300.6,337.5 300.8,337.1 301.1,337.1 301.3,336.7 302.1,336.7 302.3,336.3 302.8,336.3 303.1,335.9 303.6,335.9 303.8,335.6 304.1,335.6 304.3,335.3 304.6,335.3 304.8,335.0 305.3,335.0 305.6,334.5 306.1,334.5 306.3,334.0 306.6,334.0 306.8,333.5 307.3,333.5 307.6,333.1 307.8,333.1 308.1,332.7 308.3,332.5 308.6,332.4 308.8,332.2 309.1,332.0 309.3,331.8 309.6,331.6 309.8,331.4 310.1,331.2 310.2,331.1 311.7,330.0 313.2,329.0 314.7,328.0 316.2,327.0 317.7,326.0 319.2,325.0 320.7,323.9 322.2,322.9 323.7,321.9 325.2,320.8 326.7,319.3 328.2,317.8 329.7,316.3 331.2,314.8 332.7,313.4 334.2,312.0 335.7,310.6 337.2,309.3 338.7,307.9 340.2,306.4 341.7,304.9 343.2,303.4 344.7,302.0 346.2,300.5 347.7,299.0 349.2,298.1 350.7,297.2 352.2,296.2 353.7,295.3 355.2,294.4 356.7,293.5 358.2,292.6 359.7,291.6 361.2,290.7 362.7,290.1 364.2,289.4 365.7,288.7 367.2,288.0 368.7,287.4 370.2,286.7 371.7,286.0 373.2,285.4 374.7,284.7 376.2,284.1 377.7,283.5 379.2,283.0 380.7,282.4 382.2,281.8 383.7,281.2 385.2,280.6 386.7,280.1 388.2,279.5 389.7,278.6 391.2,277.8 392.7,276.9 394.2,276.1 395.7,275.2 397.2,274.4 398.7,273.5 400.2,272.7 401.7,271.8 403.2,270.9 404.7,270.0 406.2,269.1 407.7,268.2 409.2,267.3 410.7,266.5 412.2,265.6 413.7,264.7 415.2,263.8 416.7,262.9 418.2,262.0 419.7,261.1 421.2,260.2 422.7,259.3 424.2,258.3 425.7,257.4 427.2,256.5 428.7,255.6 430.2,254.7 431.7,253.7 433.2,252.8 434.7,251.8 436.2,250.8 437.7,249.9 439.2,249.1 440.7,248.3 442.2,247.5 443.7,246.8 445.2,245.9 446.7,245.1 448.2,244.3 449.7,243.5 451.2,242.5 452.7,241.6 454.2,240.7 455.7,239.8 457.2,238.7 458.7,237.6 460.2,236.5 461.7,235.4 463.2,234.2 464.7,233.1 466.2,232.0 467.7,230.8 469.2,229.9 470.7,229.0 472.2,228.1 473.7,227.2 475.2,226.4 476.7,225.5 478.2,224.6 479.7,223.7 481.2,222.8 482.7,221.9 484.2,221.0 485.7,220.1 487.2,219.1 488.7,218.2 490.2,217.2 491.7,216.3 493.2,215.3 494.7,214.3 496.2,213.4 497.7,212.4 499.2,211.5 500.7,210.5 502.2,209.6 503.7,208.6 505.2,207.7 506.7,206.7 508.2,205.8 509.7,204.8 511.2,203.9 512.7,203.0 514.2,202.0 515.7,201.1 517.2,200.2 518.7,199.2 520.2,198.3 521.7,197.4 523.2,196.5 524.7,195.7 526.2,194.8 527.7,194.0 529.2,193.2 530.7,192.4 532.2,191.5 533.7,190.7 535.2,189.8 536.7,188.9 538.2,188.0 539.7,187.2 541.2,186.2 542.7,185.3 544.2,184.3 545.7,183.4 547.2,182.4 548.7,181.5 550.2,180.5 551.7,179.6 553.2,178.7 554.7,177.8 556.2,176.8 557.7,175.9 559.2,175.0 560.7,174.1 562.2,173.1 563.7,172.2 565.2,171.3 566.7,170.4 568.2,169.5 569.7,168.6 571.2,167.7 572.7,166.8 574.2,165.9 575.7,165.0 577.2,164.1 578.7,163.2 580.2,162.3 581.7,161.4 583.2,160.5 584.7,159.6 586.2,158.6 587.7,157.7 589.2,156.8 590.7,155.8 592.2,154.9 593.7,154.0 595.2,153.1 596.7,152.2 598.2,151.2 599.7,150.3 601.2,149.4 602.7,148.5 604.2,147.6 605.7,146.7 607.2,145.8 608.7,144.8 610.2,143.9 611.7,143.0 613.2,142.2 614.7,141.3 616.2,140.5 617.7,139.6 619.2,138.8 620.7,137.9 622.2,137.1 623.7,136.2 625.2,135.4 626.7,134.5 628.2,133.7 629.7,132.9 631.2,132.0 632.7,131.2 634.2,130.3 635.7,129.5 637.2,128.7 638.7,127.8 640.2,127.0 641.7,126.2 643.2,125.3 644.7,124.5 646.2,123.7 647.7,122.8 649.2,122.0 650.7,121.2 652.2,120.4 653.7,119.6 655.2,118.8 656.7,118.1 658.2,117.3 659.7,116.5 661.2,115.8 662.7,115.0 664.2,114.3 665.7,113.5 667.2,112.8 668.7,112.0 670.2,111.3 671.7,110.5 673.2,109.7 674.7,109.0 676.2,108.2 677.7,107.5 679.2,106.7 680.7,106.0 682.2,105.2 683.7,104.5 685.2,103.7 686.7,103.0 688.2,102.2 689.7,101.5 691.2,100.7 692.7,99.9 694.2,99.1 695.7,98.4 697.2,97.6 698.7,96.8 700.2,96.0 701.7,95.2 703.2,94.3 704.7,93.5 706.2,92.7 707.7,91.9 709.2,91.1 710.7,90.3 712.2,89.5 713.7,88.7 715.2,87.9 716.7,87.2 718.2,86.4 719.7,85.6 721.2,84.8 722.7,84.0 724.2,83.2 725.7,82.4 727.2,81.6 728.7,80.9 730.2,80.1 731.7,79.3 733.2,78.6 734.7,77.8 736.2,77.1 737.7,76.3 739.2,75.6 740.7,74.8 742.2,74.1 743.7,73.4 745.2,72.6 746.7,71.9 748.2,71.2 749.7,70.4 751.2,69.7 752.7,69.0 754.2,68.2 755.7,67.5 757.2,66.8 758.7,66.1 760.2,65.3 761.7,64.6 763.2,63.9 764.7,63.2 766.2,62.4 767.7,61.7 769.2,61.0 770.7,60.3 772.2,59.6 773.7,58.9 775.2,58.3 776.7,57.6 778.2,56.9 779.7,56.2 781.2,55.5 782.7,54.8 784.2,54.2 785.7,53.5 787.2,52.8 788.7,52.2 790.2,51.6 791.7,51.0 793.2,50.3 794.7,49.7 796.2,49.1 797.7,48.5 797.7,55.0 796.2,55.6 794.7,56.2 793.2,56.8 791.7,57.5 790.2,58.1 788.7,58.8 787.2,59.5 785.7,60.2 784.2,60.8 782.7,61.5 781.2,62.2 779.7,62.9 778.2,63.6 776.7,64.3 775.2,65.0 773.7,65.7 772.2,66.4 770.7,67.1 769.2,67.8 767.7,68.5 766.2,69.2 764.7,70.0 763.2,70.7 761.7,71.4 760.2,72.2 758.7,72.9 757.2,73.6 755.7,74.3 754.2,75.1 752.7,75.8 751.2,76.5 749.7,77.3 748.2,78.0 746.7,78.7 745.2,79.5 743.7,80.2 742.2,81.0 740.7,81.7 739.2,82.5 737.7,83.2 736.2,84.0 734.7,84.7 733.2,85.5 731.7,86.3 730.2,87.0 728.7,87.8 727.2,88.6 725.7,89.4 724.2,90.2 722.7,91.0 721.2,91.8 719.7,92.6 718.2,93.4 716.7,94.2 715.2,95.0 713.7,95.8 712.2,96.6 710.7,97.4 709.2,98.2 707.7,99.0 706.2,99.8 704.7,100.6 703.2,101.4 701.7,102.2 700.2,103.0 698.7,103.8 697.2,104.6 695.7,105.4 694.2,106.1 692.7,106.9 691.2,107.6 689.7,108.4 688.2,109.1 686.7,109.9 685.2,110.6 683.7,111.4 682.2,112.1 680.7,112.9 679.2,113.6 677.7,114.4 676.2,115.2 674.7,115.9 673.2,116.7 671.7,117.4 670.2,118.2 668.7,118.9 667.2,119.7 665.7,120.4 664.2,121.2 662.7,121.9 661.2,122.7 659.7,123.5 658.2,124.2 656.7,125.0 655.2,125.9 653.7,126.7 652.2,127.5 650.7,128.3 649.2,129.2 647.7,130.0 646.2,130.8 644.7,131.7 643.2,132.5 641.7,133.3 640.2,134.2 638.7,135.0 637.2,135.8 635.7,136.7 634.2,137.5 632.7,138.3 631.2,139.2 629.7,140.0 628.2,140.9 626.7,141.7 625.2,142.6 623.7,143.4 622.2,144.3 620.7,145.1 619.2,146.0 617.7,146.8 616.2,147.7 614.7,148.6 613.2,149.5 611.7,150.4 610.2,151.3 608.7,152.2 607.2,153.1 605.7,154.1 604.2,155.0 602.7,155.9 601.2,156.8 599.7,157.7 598.2,158.7 596.7,159.6 595.2,160.5 593.7,161.4 592.2,162.4 590.7,163.3 589.2,164.2 587.7,165.1 586.2,166.1 584.7,167.0 583.2,167.8 581.7,168.7 580.2,169.6 578.7,170.5 577.2,171.4 575.7,172.3 574.2,173.2 572.7,174.1 571.2,175.1 569.7,176.0 568.2,176.9 566.7,177.8 565.2,178.7 563.7,179.6 562.2,180.6 560.7,181.5 559.2,182.4 557.7,183.3 556.2,184.3 554.7,185.2 553.2,186.1 551.7,187.1 550.2,188.0 548.7,189.0 547.2,189.9 545.7,190.9 544.2,191.8 542.7,192.7 541.2,193.6 539.7,194.5 538.2,195.4 536.7,196.2 535.2,197.0 533.7,197.8 532.2,198.7 530.7,199.5 529.2,200.3 527.7,201.2 526.2,202.0 524.7,203.0 523.2,203.9 521.7,204.8 520.2,205.7 518.7,206.7 517.2,207.6 515.7,208.6 514.2,209.5 512.7,210.4 511.2,211.4 509.7,212.3 508.2,213.3 506.7,214.2 505.2,215.2 503.7,216.1 502.2,217.1 500.7,218.1 499.2,219.0 497.7,220.0 496.2,220.9 494.7,221.9 493.2,222.8 491.7,223.8 490.2,224.8 488.7,225.7 487.2,226.6 485.7,227.5 484.2,228.4 482.7,229.3 481.2,230.1 479.7,231.0 478.2,231.9 476.7,232.8 475.2,233.7 473.7,234.6 472.2,235.5 470.7,236.6 469.2,237.8 467.7,238.9 466.2,240.1 464.7,241.2 463.2,242.2 461.7,243.3 460.2,244.4 458.7,245.3 457.2,246.3 455.7,247.2 454.2,248.1 452.7,248.9 451.2,249.8 449.7,250.6 448.2,251.4 446.7,252.2 445.2,253.0 443.7,253.8 442.2,254.6 440.7,255.5 439.2,256.5 437.7,257.4 436.2,258.4 434.7,259.3 433.2,260.3 431.7,261.2 430.2,262.1 428.7,263.0 427.2,263.9 425.7,264.8 424.2,265.7 422.7,266.6 421.2,267.5 419.7,268.4 418.2,269.3 416.7,270.2 415.2,271.1 413.7,272.0 412.2,272.9 410.7,273.8 409.2,274.7 407.7,275.6 406.2,276.5 404.7,277.3 403.2,278.2 401.7,279.0 400.2,279.9 398.7,280.7 397.2,281.6 395.7,282.4 394.2,283.3 392.7,284.1 391.2,284.7 389.7,285.3 388.2,285.9 386.7,286.4 385.2,287.0 383.7,287.6 382.2,288.2 380.7,288.8 379.2,289.3 377.7,290.0 376.2,290.7 374.7,291.3 373.2,292.0 371.7,292.7 370.2,293.4 368.7,294.0 367.2,294.7 365.7,295.4 364.2,296.3 362.7,297.2 361.2,298.1 359.7,299.1 358.2,300.0 356.7,300.9 355.2,301.8 353.7,302.8 352.2,303.7 350.7,305.2 349.2,306.7 347.7,308.1 346.2,309.6 344.7,311.1 343.2,312.6 341.7,313.9 340.2,315.3 338.7,316.7 337.2,318.1 335.7,319.5 334.2,321.0 332.7,322.5 331.2,324.0 329.7,325.5 328.2,326.5 326.7,327.6 325.2,328.6 323.7,329.6 322.2,330.6 320.7,331.6 319.2,332.6 317.7,333.6 316.2,334.6 314.7,335.8 313.2,336.9 311.7,338.1 310.2,339.1 310.1,339.1 309.8,339.6 309.6,339.6 309.3,339.9 308.8,339.9 308.6,340.2 308.3,340.2 308.1,340.5 307.6,340.5 307.3,340.9 306.8,340.9 306.6,341.3 306.1,341.3 305.8,341.7 305.3,341.7 305.1,342.1 304.3,342.1 304.1,342.5 303.8,342.5 303.6,342.8 303.1,342.8 302.8,343.2 302.3,343.2 302.1,343.7 301.3,343.7 301.1,344.1 300.6,344.1 300.3,344.6 300.1,344.6 299.8,345.3 299.1,345.3 298.8,346.0 298.1,346.0 297.8,346.7 297.3,346.7 297.1,347.4 296.6,347.4 296.3,348.0 295.8,348.0 295.6,348.4 295.1,348.4 294.8,348.8 294.3,348.8 294.1,349.2 293.6,349.2 293.3,349.6 292.8,349.6 292.6,350.0 292.1,350.0 291.8,350.4 291.3,350.4 291.1,350.9 290.8,350.9 290.6,351.3 289.8,351.3 289.6,351.9 288.8,351.9 288.6,352.5 288.1,352.5 287.8,353.1 287.3,353.1 287.1,353.7 286.3,353.7 286.1,354.5 285.3,354.5 285.1,355.1 284.6,355.1 284.3,355.6 284.1,355.6 283.8,356.1 283.3,356.1 283.1,356.7 282.6,356.7 282.3,357.6 281.3,357.6 281.1,358.5 280.6,358.5 280.3,359.3 279.6,359.3 279.3,360.4 278.6,360.4 278.3,361.3 277.8,361.3 277.6,362.2 276.6,362.2 276.3,363.2 275.8,363.2 275.6,363.8 274.8,363.8 274.6,364.5 274.1,364.5 273.8,365.2 272.8,365.2 272.6,366.1 271.8,366.1 271.6,366.9 270.8,366.9 270.6,367.7 269.8,367.7 269.6,368.5 268.6,368.5 268.3,369.1 267.8,369.1 267.6,369.8 266.8,369.8 266.6,370.6 265.8,370.6 265.6,371.3 264.8,371.3 264.6,372.0 263.8,372.0 263.6,372.6 262.8,372.6 262.6,373.2 261.3,373.2 261.1,373.4 260.1,373.4 259.8,373.8 258.8,373.8 258.6,374.4 257.8,374.4 257.6,375.0 256.8,375.0 256.6,375.7 255.3,375.7 255.1,376.4 253.8,376.4 253.6,377.1 252.8,377.1 252.6,377.6 251.6,377.6 251.3,378.3 250.1,378.3 249.8,378.8 249.3,378.8 249.1,379.4 247.8,379.4 247.6,380.2 247.1,380.2 246.8,380.9 245.3,380.9 245.1,381.8 244.1,381.8 243.8,382.4 243.3,382.4 243.1,383.2 241.8,383.2 241.6,384.4 240.1,384.4 239.8,385.3 239.3,385.3 239.1,386.1 238.1,386.1 237.8,387.1 236.6,387.1 236.3,388.1 235.1,388.1 234.8,389.2 233.8,389.2 233.6,390.1 232.6,390.1 232.3,390.9 231.3,390.9 231.1,391.6 230.3,391.6 230.1,392.2 229.1,392.2 228.8,393.0 227.8,393.0 227.6,393.8 226.6,393.8 226.3,394.7 224.8,394.7 224.6,395.6 223.3,395.6 223.1,396.4 222.3,396.4 222.1,397.1 220.8,397.1 220.6,397.9 219.8,397.9 219.6,399.0 218.1,399.0 217.8,400.3 217.1,400.3 216.8,401.6 215.6,401.6 215.3,402.9 214.6,402.9 214.3,404.4 212.6,404.4 212.3,405.8 211.1,405.8 210.8,406.8 209.8,406.8 209.6,408.0 208.1,408.0 207.8,409.3 206.6,409.3 206.3,410.3 204.6,410.3 204.3,411.0 203.6,411.0 203.3,411.6 202.1,411.6 201.8,412.3 200.6,412.3 200.3,412.9 199.1,412.9 198.8,413.9 197.3,413.9 197.1,414.8 196.1,414.8 195.8,415.7 194.8,415.7 194.6,417.7 193.3,417.7 193.1,420.3 191.1,420.3 190.8,421.5 189.6,421.5 189.3,421.8 188.6,421.8 188.3,422.2 186.8,422.2 186.6,422.7 184.6,422.7 184.3,423.2 182.3,423.2 182.1,423.7 180.1,423.7 179.8,424.4 177.6,424.4 177.3,425.2 175.8,425.2 175.6,425.9 173.6,425.9 173.3,426.9 171.6,426.9 171.3,428.1 169.1,428.1 168.8,429.5 166.6,429.5 166.3,430.4 165.6,430.4 165.3,431.2 164.1,431.2 163.8,432.1 162.3,432.1 162.1,433.2 160.3,433.2 160.1,434.3 158.6,434.3 158.3,435.6 156.6,435.6 156.3,436.7 155.3,436.7 155.1,437.7 153.8,437.7 153.6,438.9 151.6,438.9 151.3,440.1 149.8,440.1 149.6,441.5 148.1,441.5 147.8,443.6 145.3,443.6 145.1,445.9 142.8,445.9 142.6,447.7 141.1,447.7 140.8,449.8 139.8,449.8 139.6,451.8 138.3,451.8 138.1,454.9 135.3,454.9 135.1,458.5 132.3,458.5 132.1,461.4 130.6,461.4 130.3,463.3 129.3,463.3 129.1,465.5 128.8,465.5" fill="#9467bd" fill-opacity="0.5"/>
<polygon points="128.8,482.2 129.6,482.2 129.8,481.0 132.1,481.0 132.3,479.3 135.3,479.3 135.6,477.7 138.1,477.7 138.3,476.5 139.8,476.5 140.1,475.6 141.1,475.6 141.3,474.9 142.3,474.9 142.6,474.1 144.3,474.1 144.6,473.2 145.6,473.2 145.8,472.5 147.6,472.5 147.8,471.5 150.6,471.5 150.8,468.0 152.1,468.0 152.3,464.9 154.3,464.9 154.6,460.7 156.1,460.7 156.3,456.1 158.6,456.1 158.8,455.0 160.6,455.0 160.8,454.1 162.8,454.1 163.1,453.8 164.1,453.8 164.3,453.6 166.6,453.6 166.8,453.3 167.8,453.3 168.1,452.9 170.1,452.9 170.3,452.3 171.3,452.3 171.6,451.9 172.8,451.9 173.1,450.9 175.6,450.9 175.8,449.5 177.3,449.5 177.6,448.7 178.8,448.7 179.1,448.5 181.6,448.5 181.8,448.3 182.6,448.3 182.8,448.1 184.6,448.1 184.8,447.6 185.8,447.6 186.1,447.0 186.8,447.0 187.1,446.3 188.6,446.3 188.8,444.5 189.8,444.5 190.1,442.3 191.6,442.3 191.8,440.9 193.6,440.9 193.8,439.7 195.3,439.7 195.6,438.4 196.6,438.4 196.8,437.1 197.8,437.1 198.1,435.8 199.1,435.8 199.3,434.7 201.1,434.7 201.3,433.9 202.3,433.9 202.6,433.2 204.3,433.2 204.6,432.7 205.8,432.7 206.1,432.1 208.1,432.1 208.3,431.3 210.1,431.3 210.3,430.1 212.1,430.1 212.3,429.3 213.1,429.3 213.3,428.5 214.8,428.5 215.1,427.7 216.8,427.7 217.1,427.1 218.1,427.1 218.3,426.5 220.1,426.5 220.3,425.9 221.3,425.9 221.6,425.4 222.6,425.4 222.8,424.9 223.6,424.9 223.8,424.2 225.6,424.2 225.8,423.5 226.6,423.5 226.8,422.9 228.1,422.9 228.3,421.9 230.1,421.9 230.3,420.8 231.8,420.8 232.1,419.9 233.3,419.9 233.6,418.9 235.1,418.9 235.3,417.8 237.1,417.8 237.3,416.6 238.8,416.6 239.1,415.3 240.1,415.3 240.3,414.1 241.6,414.1 241.8,412.6 243.3,412.6 243.6,411.3 244.8,411.3 245.1,410.0 246.6,410.0 246.8,408.8 247.8,408.8 248.1,407.8 249.3,407.8 249.6,407.3 250.3,407.3 250.6,406.8 252.1,406.8 252.3,406.1 253.6,406.1 253.8,405.5 255.3,405.5 255.6,404.7 256.3,404.7 256.6,403.7 257.8,403.7 258.1,402.7 258.8,402.7 259.1,402.0 259.8,402.0 260.1,401.3 260.6,401.3 260.8,399.8 261.8,399.8 262.1,397.8 263.1,397.8 263.3,395.9 264.1,395.9 264.3,394.2 265.3,394.2 265.6,393.7 266.3,393.7 266.6,393.2 267.3,393.2 267.6,392.8 268.1,392.8 268.3,392.3 269.1,392.3 269.3,391.8 269.8,391.8 270.1,391.3 271.1,391.3 271.3,390.7 272.3,390.7 272.6,390.3 273.3,390.3 273.6,389.8 274.6,389.8 274.8,389.3 275.8,389.3 276.1,388.9 276.6,388.9 276.8,388.5 277.8,388.5 278.1,387.9 278.8,387.9 279.1,387.1 279.8,387.1 280.1,386.2 280.6,386.2 280.8,385.2 282.1,385.2 282.3,384.2 283.1,384.2 283.3,383.4 284.1,383.4 284.3,383.1 285.3,383.1 285.6,382.9 286.1,382.9 286.3,382.6 287.3,382.6 287.6,382.3 288.1,382.3 288.3,382.1 289.1,382.1 289.3,381.9 289.6,381.9 289.8,381.7 290.8,381.7 291.1,381.5 291.6,381.5 291.8,381.3 292.3,381.3 292.6,381.0 293.1,381.0 293.3,380.8 294.3,380.8 294.6,380.5 295.3,380.5 295.6,380.2 296.3,380.2 296.6,379.4 297.3,379.4 297.6,378.4 298.1,378.4 298.3,377.4 299.1,377.4 299.3,376.4 299.8,376.4 300.1,375.3 300.8,375.3 301.1,374.4 301.6,374.4 301.8,373.8 302.6,373.8 302.8,373.1 303.6,373.1 303.8,372.3 304.6,372.3 304.8,371.4 305.6,371.4 305.8,370.7 306.6,370.7 306.8,369.9 307.6,369.9 307.8,369.2 308.6,369.2 308.8,368.5 309.3,368.5 309.6,367.9 310.1,367.9 310.3,367.3 310.8,367.3 311.1,366.7 311.8,366.7 312.1,366.0 312.6,366.0 312.8,365.4 313.6,365.4 313.8,364.8 314.1,364.8 314.3,364.3 315.1,364.3 315.3,363.7 316.1,363.7 316.3,363.0 317.1,363.0 317.3,362.3 318.1,362.3 318.3,361.6 319.1,361.6 319.3,361.0 319.8,361.0 320.1,360.3 320.6,360.3 320.8,359.7 321.3,359.7 321.6,359.2 322.1,359.2 322.3,358.5 322.8,358.5 323.1,358.0 323.3,358.0 323.6,357.5 323.8,357.5 324.1,356.4 324.6,356.4 324.8,355.1 325.1,355.1 325.3,353.5 326.1,353.5 326.3,351.7 326.8,351.7 327.1,351.0 327.6,351.0 327.8,350.5 328.1,350.5 328.3,349.8 328.8,349.8 329.1,349.1 329.6,349.1 329.8,348.5 330.3,348.5 330.6,347.7 331.3,347.7 331.6,347.0 331.8,347.0 332.1,346.1 332.8,346.1 333.1,345.0 333.6,345.0 333.8,344.1 334.3,344.1 334.6,343.3 334.8,343.3 335.1,342.6 335.6,342.6 335.8,341.9 336.1,341.9 336.3,341.1 336.8,341.1 337.1,340.2 337.6,340.2 337.8,339.3 338.3,339.3 338.6,338.5 338.8,338.5 339.1,338.0 339.6,338.0 339.8,337.5 340.1,337.5 340.3,336.9 340.8,336.9 341.1,336.3 341.6,336.3 341.8,335.6 342.3,335.6 342.6,335.0 343.1,335.0 343.3,334.6 343.6,334.4 343.8,334.2 344.1,334.0 344.3,333.7 344.6,333.5 344.8,333.3 345.1,333.1 345.3,332.9 345.5,332.7 347.0,331.4 348.5,330.1 350.0,328.8 351.5,327.5 353.0,326.2 354.5,324.9 356.0,323.2 357.5,321.6 359.0,319.9 360.5,318.3 362.0,317.0 363.5,316.2 365.0,315.3 366.5,314.4 368.0,313.5 369.5,312.7 371.0,311.9 372.5,311.1 374.0,310.3 375.5,309.6 377.0,308.8 378.5,308.0 380.0,307.2 381.5,306.5 383.0,305.7 384.5,304.9 386.0,304.1 387.5,303.3 389.0,302.3 390.5,301.0 392.0,299.8 393.5,298.6 395.0,297.3 396.5,296.0 398.0,294.7 399.5,293.4 401.0,292.1 402.5,291.0 404.0,290.0 405.5,289.0 407.0,288.0 408.5,287.0 410.0,286.1 411.5,285.2 413.0,284.4 414.5,283.5 416.0,282.3 417.5,280.9 419.0,279.5 420.5,278.1 422.0,276.8 423.5,275.9 425.0,274.9 426.5,274.0 428.0,273.0 429.5,271.9 431.0,270.8 432.5,269.7 434.0,268.5 435.5,267.4 437.0,266.0 438.5,264.8 440.0,263.8 441.5,262.7 443.0,261.7 444.5,260.7 446.0,259.8 447.5,258.9 449.0,258.1 450.5,257.1 452.0,256.1 453.5,255.0 455.0,254.0 456.5,252.8 458.0,251.6 459.5,250.4 461.0,249.2 462.5,247.9 464.0,246.6 465.5,245.4 467.0,244.1 468.5,243.0 470.0,242.0 471.5,241.0 473.0,240.1 474.5,239.1 476.0,238.1 477.5,237.1 479.0,236.2 480.5,235.2 482.0,234.2 483.5,233.2 485.0,232.3 486.5,231.3 488.0,230.3 489.5,229.4 491.0,228.4 492.5,227.4 494.0,226.5 495.5,225.5 497.0,224.5 498.5,223.5 500.0,222.5 501.5,221.5 503.0,220.5 504.5,219.5 506.0,218.5 507.5,217.5 509.0,216.5 510.5,215.5 512.0,214.5 513.5,213.5 515.0,212.5 516.5,211.5 518.0,210.6 519.5,209.6 521.0,208.6 522.5,207.6 524.0,206.6 525.5,205.6 527.0,204.6 528.5,203.6 530.0,202.6 531.5,201.7 533.0,200.7 534.5,199.7 536.0,198.7 537.5,197.7 539.0,196.7 540.5,195.7 542.0,194.7 543.5,193.7 545.0,192.7 546.5,191.7 548.0,190.7 549.5,189.7 551.0,188.7 552.5,187.8 554.0,186.8 555.5,185.8 557.0,184.8 558.5,183.8 560.0,182.8 561.5,181.9 563.0,180.9 564.5,179.9 566.0,178.9 567.5,178.0 569.0,177.0 570.5,176.0 572.0,175.1 573.5,174.1 575.0,173.1 576.5,172.2 578.0,171.2 579.5,170.2 581.0,169.3 582.5,168.3 584.0,167.3 585.5,166.3 587.0,165.3 588.5,164.3 590.0,163.2 591.5,162.2 593.0,161.2 594.5,160.2 596.0,159.2 597.5,158.2 599.0,157.2 600.5,156.2 602.0,155.2 603.5,154.2 605.0,153.2 606.5,152.2 608.0,151.2 609.5,150.2 611.0,149.2 612.5,148.2 614.0,147.2 615.5,146.3 617.0,145.3 618.5,144.4 620.0,143.4 621.5,142.5 623.0,141.6 624.5,140.6 626.0,139.7 627.5,138.7 629.0,137.8 630.5,136.9 632.0,135.9 633.5,135.0 635.0,134.1 636.5,133.2 638.0,132.2 639.5,131.3 641.0,130.4 642.5,129.5 644.0,128.6 645.5,127.6 647.0,126.7 648.5,125.8 650.0,124.9 651.5,124.0 653.0,123.1 654.5,122.2 656.0,121.4 657.5,120.6 659.0,119.7 660.5,118.9 662.0,118.1 663.5,117.2 665.0,116.4 666.5,115.6 668.0,114.8 669.5,113.9 671.0,113.1 672.5,112.3 674.0,111.5 675.5,110.7 677.0,109.9 678.5,109.0 680.0,108.2 681.5,107.4 683.0,106.6 684.5,105.8 686.0,105.0 687.5,104.2 689.0,103.4 690.5,102.6 692.0,101.8 693.5,100.9 695.0,100.1 696.5,99.3 698.0,98.4 699.5,97.6 701.0,96.8 702.5,95.9 704.0,95.1 705.5,94.2 707.0,93.4 708.5,92.6 710.0,91.7 711.5,90.9 713.0,90.1 714.5,89.3 716.0,88.4 717.5,87.6 719.0,86.8 720.5,86.0 722.0,85.2 723.5,84.4 725.0,83.6 726.5,82.8 728.0,82.0 729.5,81.2 731.0,80.4 732.5,79.6 734.0,78.9 735.5,78.1 737.0,77.3 738.5,76.6 740.0,75.8 741.5,75.1 743.0,74.3 744.5,73.6 746.0,72.8 747.5,72.1 749.0,71.3 750.5,70.6 752.0,69.9 753.5,69.1 755.0,68.4 756.5,67.7 758.0,66.9 759.5,66.2 761.0,65.4 762.5,64.7 764.0,64.0 765.5,63.2 767.0,62.5 768.5,61.8 770.0,61.1 771.5,60.3 773.0,59.6 774.5,58.9 776.0,58.2 777.5,57.5 779.0,56.8 780.5,56.1 782.0,55.3 783.5,54.6 785.0,53.9 786.5,53.2 788.0,52.5 789.5,51.8 791.0,51.2 792.5,50.5 794.0,49.9 795.5,49.2 797.0,48.6 797.0,55.2 795.5,55.8 794.0,56.5 792.5,57.1 791.0,57.8 789.5,58.6 788.0,59.3 786.5,60.0 785.0,60.7 783.5,61.4 782.0,62.1 780.5,62.8 779.0,63.6 777.5,64.3 776.0,65.0 774.5,65.7 773.0,66.4 771.5,67.1 770.0,67.9 768.5,68.6 767.0,69.3 765.5,70.1 764.0,70.8 762.5,71.6 761.0,72.3 759.5,73.1 758.0,73.8 756.5,74.5 755.0,75.3 753.5,76.0 752.0,76.7 750.5,77.5 749.0,78.2 747.5,79.0 746.0,79.7 744.5,80.5 743.0,81.2 741.5,82.0 740.0,82.8 738.5,83.5 737.0,84.3 735.5,85.1 734.0,85.8 732.5,86.6 731.0,87.4 729.5,88.2 728.0,89.0 726.5,89.8 725.0,90.7 723.5,91.5 722.0,92.3 720.5,93.1 719.0,93.9 717.5,94.7 716.0,95.6 714.5,96.4 713.0,97.2 711.5,98.1 710.0,98.9 708.5,99.7 707.0,100.6 705.5,101.4 704.0,102.3 702.5,103.1 701.0,103.9 699.5,104.8 698.0,105.6 696.5,106.4 695.0,107.2 693.5,108.1 692.0,108.9 690.5,109.7 689.0,110.5 687.5,111.3 686.0,112.1 684.5,112.9 683.0,113.7 681.5,114.5 680.0,115.3 678.5,116.1 677.0,117.0 675.5,117.8 674.0,118.6 672.5,119.4 671.0,120.2 669.5,121.1 668.0,121.9 666.5,122.7 665.0,123.6 663.5,124.4 662.0,125.2 660.5,126.1 659.0,126.9 657.5,127.8 656.0,128.7 654.5,129.6 653.0,130.5 651.5,131.4 650.0,132.3 648.5,133.2 647.0,134.1 645.5,135.1 644.0,136.0 642.5,136.9 641.0,137.8 639.5,138.7 638.0,139.7 636.5,140.6 635.0,141.5 633.5,142.5 632.0,143.4 630.5,144.3 629.0,145.3 627.5,146.2 626.0,147.2 624.5,148.1 623.0,149.1 621.5,150.0 620.0,151.0 618.5,151.9 617.0,152.9 615.5,153.8 614.0,154.8 612.5,155.8 611.0,156.8 609.5,157.8 608.0,158.8 606.5,159.8 605.0,160.8 603.5,161.8 602.0,162.9 600.5,163.9 599.0,164.9 597.5,165.9 596.0,166.9 594.5,167.9 593.0,168.9 591.5,169.9 590.0,171.0 588.5,172.0 587.0,173.0 585.5,174.0 584.0,174.9 582.5,175.9 581.0,176.8 579.5,177.8 578.0,178.8 576.5,179.7 575.0,180.7 573.5,181.7 572.0,182.6 570.5,183.6 569.0,184.6 567.5,185.6 566.0,186.5 564.5,187.5 563.0,188.5 561.5,189.5 560.0,190.5 558.5,191.4 557.0,192.4 555.5,193.4 554.0,194.4 552.5,195.4 551.0,196.4 549.5,197.4 548.0,198.4 546.5,199.4 545.0,200.3 543.5,201.3 542.0,202.3 540.5,203.3 539.0,204.3 537.5,205.3 536.0,206.3 534.5,207.3 533.0,208.3 531.5,209.3 530.0,210.3 528.5,211.3 527.0,212.3 525.5,213.2 524.0,214.2 522.5,215.2 521.0,216.2 519.5,217.2 518.0,218.2 516.5,219.2 515.0,220.2 513.5,221.2 512.0,222.2 510.5,223.2 509.0,224.2 507.5,225.2 506.0,226.2 504.5,227.2 503.0,228.2 501.5,229.2 500.0,230.2 498.5,231.1 497.0,232.1 495.5,233.1 494.0,234.0 492.5,235.0 491.0,236.0 489.5,236.9 488.0,237.9 486.5,238.9 485.0,239.9 483.5,240.8 482.0,241.8 480.5,242.8 479.0,243.8 477.5,244.7 476.0,245.7 474.5,246.7 473.0,247.7 471.5,248.8 470.0,250.1 468.5,251.3 467.0,252.6 465.5,253.8 464.0,255.1 462.5,256.3 461.0,257.5 459.5,258.7 458.0,259.7 456.5,260.7 455.0,261.8 453.5,262.7 452.0,263.6 450.5,264.5 449.0,265.4 447.5,266.3 446.0,267.4 444.5,268.4 443.0,269.5 441.5,270.7 440.0,272.0 438.5,273.2 437.0,274.3 435.5,275.5 434.0,276.6 432.5,277.7 431.0,278.6 429.5,279.6 428.0,280.5 426.5,281.5 425.0,282.8 423.5,284.2 422.0,285.6 420.5,287.0 419.0,288.2 417.5,289.0 416.0,289.9 414.5,290.8 413.0,291.6 411.5,292.6 410.0,293.6 408.5,294.6 407.0,295.7 405.5,296.8 404.0,298.1 402.5,299.4 401.0,300.7 399.5,302.0 398.0,303.3 396.5,304.5 395.0,305.7 393.5,306.9 392.0,308.0 390.5,308.8 389.0,309.5 387.5,310.3 386.0,311.1 384.5,311.9 383.0,312.7 381.5,313.4 380.0,314.2 378.5,315.0 377.0,315.8 375.5,316.6 374.0,317.3 372.5,318.1 371.0,319.0 369.5,319.9 368.0,320.8 366.5,321.7 365.0,323.0 363.5,324.6 362.0,326.3 360.5,327.9 359.0,329.6 357.5,330.9 356.0,332.2 354.5,333.5 353.0,334.8 351.5,336.1 350.0,337.4 348.5,338.7 347.0,340.2 345.5,341.5 345.1,341.5 344.8,342.1 344.3,342.1 344.1,342.6 343.8,342.6 343.6,343.1 343.3,343.1 343.1,343.9 342.3,343.9 342.1,344.8 341.8,344.8 341.6,345.7 340.8,345.7 340.6,346.5 340.3,346.5 340.1,347.2 339.8,347.2 339.6,347.9 339.3,347.9 339.1,348.7 338.6,348.7 338.3,349.6 337.6,349.6 337.3,350.7 336.8,350.7 336.6,351.6 336.1,351.6 335.8,352.3 335.3,352.3 335.1,353.1 334.6,353.1 334.3,353.7 333.8,353.7 333.6,354.4 332.8,354.4 332.6,355.1 332.3,355.1 332.1,355.6 331.8,355.6 331.6,356.3 330.8,356.3 330.6,358.1 330.1,358.1 329.8,359.7 329.3,359.7 329.1,361.0 328.8,361.0 328.6,362.1 328.3,362.1 328.1,362.6 327.6,362.6 327.3,363.1 326.8,363.1 326.6,363.8 326.1,363.8 325.8,364.3 325.6,364.3 325.3,364.9 324.6,364.9 324.3,365.6 323.8,365.6 323.6,366.2 323.1,366.2 322.8,366.9 322.1,366.9 321.8,367.6 320.8,367.6 320.6,368.3 319.8,368.3 319.6,368.9 319.1,368.9 318.8,369.4 318.3,369.4 318.1,370.0 317.6,370.0 317.3,370.6 316.8,370.6 316.6,371.3 315.8,371.3 315.6,371.9 315.1,371.9 314.8,372.5 314.3,372.5 314.1,373.1 313.3,373.1 313.1,373.8 312.6,373.8 312.3,374.5 311.3,374.5 311.1,375.3 310.6,375.3 310.3,376.0 309.6,376.0 309.3,376.9 308.3,376.9 308.1,377.7 307.3,377.7 307.1,378.4 306.6,378.4 306.3,379.0 305.8,379.0 305.6,379.9 304.8,379.9 304.6,381.0 303.8,381.0 303.6,382.0 303.1,382.0 302.8,383.0 302.3,383.0 302.1,384.0 301.1,384.0 300.8,384.8 300.1,384.8 299.8,385.1 299.3,385.1 299.1,385.4 297.8,385.4 297.6,385.6 297.1,385.6 296.8,385.9 296.3,385.9 296.1,386.1 295.6,386.1 295.3,386.3 294.6,386.3 294.3,386.5 293.8,386.5 293.6,386.7 293.1,386.7 292.8,386.9 292.1,386.9 291.8,387.2 290.8,387.2 290.6,387.5 290.1,387.5 289.8,387.7 289.1,387.7 288.8,388.0 287.8,388.0 287.6,388.8 286.8,388.8 286.6,389.8 285.6,389.8 285.3,390.8 284.6,390.8 284.3,391.7 283.6,391.7 283.3,392.5 282.8,392.5 282.6,393.1 281.6,393.1 281.3,393.5 280.6,393.5 280.3,393.9 279.3,393.9 279.1,394.4 278.3,394.4 278.1,394.9 277.3,394.9 277.1,395.3 276.1,395.3 275.8,395.9 274.8,395.9 274.6,396.4 273.8,396.4 273.6,396.9 273.1,396.9 272.8,397.4 272.1,397.4 271.8,397.8 271.3,397.8 271.1,398.3 270.1,398.3 269.8,398.8 269.1,398.8 268.8,400.5 267.8,400.5 267.6,402.4 266.8,402.4 266.6,404.4 265.3,404.4 265.1,405.9 264.6,405.9 264.3,406.6 263.8,406.6 263.6,407.3 262.6,407.3 262.3,408.3 261.1,408.3 260.8,409.3 260.1,409.3 259.8,410.1 258.3,410.1 258.1,410.7 256.8,410.7 256.6,411.4 255.1,411.4 254.8,411.9 254.1,411.9 253.8,412.4 252.8,412.4 252.6,413.4 251.3,413.4 251.1,414.6 249.6,414.6 249.3,415.9 248.3,415.9 248.1,417.2 246.3,417.2 246.1,418.7 244.8,418.7 244.6,419.9 243.6,419.9 243.3,421.2 241.8,421.2 241.6,422.4 240.1,422.4 239.8,423.5 238.3,423.5 238.1,424.5 236.6,424.5 236.3,425.4 235.1,425.4 234.8,426.5 232.8,426.5 232.6,427.5 231.3,427.5 231.1,428.1 230.3,428.1 230.1,428.8 228.3,428.8 228.1,429.5 227.3,429.5 227.1,430.0 226.1,430.0 225.8,430.5 225.1,430.5 224.8,431.1 223.1,431.1 222.8,431.7 221.8,431.7 221.6,432.3 219.8,432.3 219.6,433.1 218.1,433.1 217.8,433.9 217.1,433.9 216.8,434.7 214.8,434.7 214.6,435.9 212.8,435.9 212.6,436.7 210.8,436.7 210.6,437.3 209.1,437.3 208.8,437.8 207.1,437.8 206.8,438.5 205.8,438.5 205.6,439.3 204.1,439.3 203.8,440.4 202.6,440.4 202.3,441.7 201.3,441.7 201.1,443.0 200.1,443.0 199.8,444.3 198.3,444.3 198.1,445.5 196.3,445.5 196.1,446.9 194.8,446.9 194.6,449.1 193.3,449.1 193.1,450.9 191.8,450.9 191.6,451.6 190.8,451.6 190.6,452.2 189.3,452.2 189.1,452.7 187.3,452.7 187.1,452.9 186.3,452.9 186.1,453.1 183.6,453.1 183.3,453.3 182.1,453.3 181.8,454.1 180.3,454.1 180.1,455.5 177.6,455.5 177.3,456.5 176.3,456.5 176.1,456.9 175.1,456.9 174.8,457.5 172.8,457.5 172.6,457.9 171.6,457.9 171.3,458.2 168.8,458.2 168.6,458.4 167.6,458.4 167.3,458.7 165.3,458.7 165.1,459.6 163.3,459.6 163.1,460.7 160.8,460.7 160.6,465.3 159.3,465.3 159.1,469.5 157.1,469.5 156.8,472.6 155.3,472.6 155.1,476.1 152.6,476.1 152.3,477.1 150.3,477.1 150.1,477.8 149.1,477.8 148.8,478.7 147.1,478.7 146.8,479.5 145.8,479.5 145.6,480.2 144.6,480.2 144.3,481.1 143.1,481.1 142.8,482.3 140.1,482.3 139.8,483.9 137.1,483.9 136.8,485.6 134.3,485.6 134.1,486.8 133.1,486.8 132.8,487.6 131.8,487.6 131.6,488.9 128.8,488.9" fill="#8c564b" fill-opacity="0.5"/>
<polygon points="128.8,586.0 130.8,586.0 131.1,581.2 134.1,581.2 134.3,575.8 136.6,575.8 136.8,571.9 139.1,571.9 139.3,568.3 141.6,568.3 141.8,567.4 143.1,567.4 143.3,566.4 146.3,566.4 146.6,565.5 147.6,565.5 147.8,564.8 149.1,564.8 149.3,564.0 150.8,564.0 151.1,563.2 152.6,563.2 152.8,562.2 154.6,562.2 154.8,560.3 156.8,560.3 157.1,557.5 159.3,557.5 159.6,554.4 162.1,554.4 162.3,550.8 164.8,550.8 165.1,548.0 166.1,548.0 166.3,545.8 167.8,545.8 168.1,543.4 169.8,543.4 170.1,541.5 172.6,541.5 172.8,541.4 174.3,541.4 174.6,541.3 176.3,541.3 176.6,540.5 177.6,540.5 177.8,538.7 179.8,538.7 180.1,536.8 181.8,536.8 182.1,534.2 183.8,534.2 184.1,532.0 185.1,532.0 185.3,531.2 186.3,531.2 186.6,530.4 187.8,530.4 188.1,529.2 190.3,529.2 190.6,527.7 192.8,527.7 193.1,526.6 194.1,526.6 194.3,525.6 195.8,525.6 196.1,524.4 198.1,524.4 198.3,522.8 199.6,522.8 199.8,520.9 202.1,520.9 202.3,519.0 203.3,519.0 203.6,517.3 205.3,517.3 205.6,515.6 206.8,515.6 207.1,514.3 207.8,514.3 208.1,512.2 210.1,512.2 210.3,507.6 212.3,507.6 212.6,507.8 213.6,507.8 213.8,507.1 215.1,507.1 215.3,504.8 217.3,504.8 217.6,502.5 218.6,502.5 218.8,500.9 219.6,500.9 219.8,500.1 220.8,500.1 221.1,498.9 223.1,498.9 223.3,497.6 224.6,497.6 224.8,496.0 226.8,496.0 227.1,494.4 227.8,494.4 228.1,493.0 229.6,493.0 229.8,491.3 231.1,491.3 231.3,489.7 232.3,489.7 232.6,488.2 233.6,488.2 233.8,486.2 235.6,486.2 235.8,483.7 237.1,483.7 237.3,481.8 238.3,481.8 238.6,480.7 239.3,480.7 239.6,479.5 240.8,479.5 241.1,478.1 242.3,478.1 242.6,476.7 243.8,476.7 244.1,475.2 245.6,475.2 245.8,474.0 246.6,474.0 246.8,473.2 247.6,473.2 247.8,472.2 248.8,472.2 249.1,471.1 249.8,471.1 250.1,470.1 251.3,470.1 251.6,469.3 252.3,469.3 252.6,468.5 253.6,468.5 253.8,467.8 254.6,467.8 254.8,467.1 255.8,467.1 256.1,466.3 257.3,466.3 257.6,465.4 258.3,465.4 258.6,464.4 259.8,464.4 260.1,463.1 261.6,463.1 261.8,461.6 263.3,461.6 263.6,460.5 264.3,460.5 264.6,459.5 265.6,459.5 265.8,458.2 267.3,458.2 267.6,456.9 268.8,456.9 269.1,455.6 270.3,455.6 270.6,454.5 271.1,454.5 271.3,453.6 272.6,453.6 272.8,452.7 273.6,452.7 273.8,451.8 274.8,451.8 275.1,450.8 276.1,450.8 276.3,449.6 277.6,449.6 277.8,448.6 278.8,448.6 279.1,447.7 279.8,447.7 280.1,447.0 280.6,447.0 280.8,446.3 281.6,446.3 281.8,445.5 282.3,445.5 282.6,444.8 283.6,444.8 283.8,444.1 284.3,444.1 284.6,443.5 285.1,443.5 285.3,442.8 285.8,442.8 286.1,442.0 287.3,442.0 287.6,441.1 288.3,441.1 288.6,440.2 289.6,440.2 289.8,439.2 290.8,439.2 291.1,438.3 292.1,438.3 292.3,437.5 293.1,437.5 293.3,436.9 293.6,436.9 293.8,436.2 294.8,436.2 295.1,435.4 296.1,435.4 296.3,434.5 297.1,434.5 297.3,433.9 297.8,433.9 298.1,433.2 299.1,433.2 299.3,432.4 300.3,432.4 300.6,431.8 300.8,431.8 301.1,431.2 302.1,431.2 302.3,430.4 303.3,430.4 303.6,429.6 304.3,429.6 304.6,428.8 305.3,428.8 305.6,428.1 306.1,428.1 306.3,427.4 306.8,427.4 307.1,426.7 308.1,426.7 308.3,425.9 309.1,425.9 309.3,425.2 309.8,425.2 310.1,424.5 310.6,424.5 310.8,423.8 311.6,423.8 311.8,422.9 312.8,422.9 313.1,421.9 313.8,421.9 314.1,421.0 314.6,421.0 314.8,420.2 315.8,420.2 316.1,419.2 316.8,419.2 317.1,418.4 317.6,418.4 317.8,417.6 318.6,417.6 318.8,416.8 319.3,416.8 319.6,415.9 320.3,415.9 320.6,415.2 321.1,415.2 321.3,414.5 321.8,414.5 322.1,413.9 322.6,413.9 322.8,413.2 323.6,413.2 323.8,412.4 324.3,412.4 324.6,411.7 325.1,411.7 325.3,411.1 325.6,411.1 325.8,410.5 326.6,410.5 326.8,409.8 327.3,409.8 327.6,409.1 328.3,409.1 328.6,408.4 329.1,408.4 329.3,407.9 329.6,407.9 329.8,407.4 330.3,407.4 330.6,406.8 331.1,406.8 331.3,406.3 331.8,406.3 332.1,405.7 332.6,405.7 332.8,405.0 333.3,405.0 333.6,404.3 333.8,404.3 334.1,403.7 334.6,403.7 334.8,403.2 335.3,403.2 335.6,402.6 335.8,402.6 336.1,402.0 336.6,402.0 336.8,401.5 337.1,401.5 337.3,400.9 337.6,400.9 337.8,400.3 338.3,400.3 338.6,399.7 339.3,399.7 339.6,399.1 339.8,399.1 340.1,398.6 340.3,398.6 340.6,398.1 341.1,398.1 341.3,397.7 341.6,397.7 341.8,397.2 342.1,397.2 342.3,396.7 342.8,396.7 343.1,396.3 343.3,396.1 343.6,395.9 343.8,395.7 344.1,395.5 344.3,395.2 344.6,395.0 344.8,394.8 345.1,394.6 345.1,394.6 346.6,393.3 348.1,392.1 349.6,390.7 351.1,389.3 352.6,387.9 354.1,386.5 355.6,385.1 357.1,383.7 358.6,382.3 360.1,380.9 361.6,379.5 363.1,378.3 364.6,377.0 366.1,375.8 367.6,374.5 369.1,373.2 370.6,371.8 372.1,370.5 373.6,369.1 375.1,367.8 376.6,366.3 378.1,364.8 379.6,363.3 381.1,361.8 382.6,360.6 384.1,359.6 385.6,358.5 387.1,357.5 388.6,356.3 390.1,354.8 391.6,353.3 393.1,351.8 394.6,350.3 396.1,348.8 397.6,347.3 399.1,345.8 400.6,344.3 402.1,342.9 403.6,341.7 405.1,340.5 406.6,339.3 408.1,338.1 409.6,337.1 411.1,336.0 412.6,335.0 414.1,333.9 415.6,332.8 417.1,331.4 418.6,330.1 420.1,328.7 421.6,327.4 423.1,325.9 424.6,324.4 426.1,322.9 427.6,321.4 429.1,320.1 430.6,319.0 432.1,318.0 433.6,316.9 435.1,315.9 436.6,314.7 438.1,313.5 439.6,312.3 441.1,311.1 442.6,309.9 444.1,308.7 445.6,307.5 447.1,306.2 448.6,305.0 450.1,303.8 451.6,302.5 453.1,301.3 454.6,300.0 456.1,298.7 457.6,297.5 459.1,296.2 460.6,295.0 462.1,293.7 463.6,292.5 465.1,291.3 466.6,290.0 468.1,288.8 469.6,287.5 471.1,286.3 472.6,285.1 474.1,283.8 475.6,282.6 477.1,281.3 478.6,280.1 480.1,278.8 481.6,277.6 483.1,276.3 484.6,275.1 486.1,273.8 487.6,272.6 489.1,271.3 490.6,270.0 492.1,268.8 493.6,267.5 495.1,266.3 496.6,265.0 498.1,263.8 499.6,262.5 501.1,261.3 502.6,260.0 504.1,258.8 505.6,257.5 507.1,256.2 508.6,255.0 510.1,253.7 511.6,252.5 513.1,251.2 514.6,249.9 516.1,248.7 517.6,247.4 519.1,246.1 520.6,244.9 522.1,243.6 523.6,242.3 525.1,241.1 526.6,239.8 528.1,238.6 529.6,237.3 531.1,236.0 532.6,234.8 534.1,233.5 535.6,232.3 537.1,231.0 538.6,229.8 540.1,228.5 541.6,227.3 543.1,226.1 544.6,224.9 546.1,223.7 547.6,222.5 549.1,221.3 550.6,220.0 552.1,218.8 553.6,217.6 555.1,216.4 556.6,215.2 558.1,214.0 559.6,212.8 561.1,211.6 562.6,210.4 564.1,209.2 565.6,208.0 567.1,206.8 568.6,205.6 570.1,204.4 571.6,203.2 573.1,202.0 574.6,200.8 576.1,199.6 577.6,198.4 579.1,197.2 580.6,196.0 582.1,194.8 583.6,193.6 585.1,192.4 586.6,191.3 588.1,190.1 589.6,188.9 591.1,187.7 592.6,186.5 594.1,185.4 595.6,184.2 597.1,183.0 598.6,181.9 600.1,180.7 601.6,179.6 603.1,178.4 604.6,177.3 606.1,176.1 607.6,175.0 609.1,173.8 610.6,172.7 612.1,171.6 613.6,170.4 615.1,169.3 616.6,168.2 618.1,167.1 619.6,166.0 621.1,164.8 622.6,163.7 624.1,162.6 625.6,161.5 627.1,160.4 628.6,159.3 630.1,158.2 631.6,157.1 633.1,156.0 634.6,154.9 636.1,153.8 637.6,152.7 639.1,151.6 640.6,150.5 642.1,149.5 643.6,148.4 645.1,147.3 646.6,146.3 648.1,145.2 649.6,144.1 651.1,143.1 652.6,142.0 654.1,141.0 655.6,140.0 657.1,138.9 658.6,137.9 660.1,136.9 661.6,135.8 663.1,134.8 664.6,133.8 666.1,132.8 667.6,131.8 669.1,130.7 670.6,129.7 672.1,128.7 673.6,127.7 675.1,126.7 676.6,125.7 678.1,124.7 679.6,123.8 681.1,122.8 682.6,121.8 684.1,120.8 685.6,119.9 687.1,118.9 688.6,117.9 690.1,117.0 691.6,116.0 693.1,115.0 694.6,114.1 696.1,113.1 697.6,112.2 699.1,111.2 700.6,110.3 702.1,109.3 703.6,108.4 705.1,107.5 706.6,106.5 708.1,105.6 709.6,104.6 711.1,103.7 712.6,102.8 714.1,101.8 715.6,100.9 717.1,100.0 718.6,99.0 720.1,98.1 721.6,97.2 723.1,96.2 724.6,95.3 726.1,94.4 727.6,93.4 729.1,92.5 730.6,91.6 732.1,90.6 733.6,89.7 735.1,88.8 736.6,87.8 738.1,86.9 739.6,85.9 741.1,85.0 742.6,84.0 744.1,83.1 745.6,82.1 747.1,81.2 748.6,80.2 750.1,79.3 751.6,78.3 753.1,77.4 754.6,76.4 756.1,75.4 757.6,74.4 759.1,73.4 760.6,72.4 762.1,71.4 763.6,70.3 765.1,69.3 766.6,68.3 768.1,67.2 769.6,66.2 771.1,65.1 772.6,64.1 774.1,63.0 775.6,61.9 777.1,60.8 778.6,59.8 780.1,58.6 781.6,57.5 783.1,56.4 784.6,55.2 786.1,54.1 787.6,52.9 789.1,51.8 790.6,50.7 792.1,49.6 793.6,48.5 795.1,47.4 796.6,46.3 798.1,45.2 798.1,53.2 796.6,54.3 795.1,55.4 793.6,56.5 792.1,57.6 790.6,58.8 789.1,59.9 787.6,61.1 786.1,62.2 784.6,63.3 783.1,64.4 781.6,65.5 780.1,66.6 778.6,67.7 777.1,68.8 775.6,69.8 774.1,70.9 772.6,71.9 771.1,72.9 769.6,74.0 768.1,75.0 766.6,76.0 765.1,77.1 763.6,78.1 762.1,79.1 760.6,80.1 759.1,81.1 757.6,82.0 756.1,83.0 754.6,84.0 753.1,84.9 751.6,85.9 750.1,86.8 748.6,87.8 747.1,88.7 745.6,89.7 744.1,90.6 742.6,91.5 741.1,92.5 739.6,93.4 738.1,94.4 736.6,95.3 735.1,96.2 733.6,97.2 732.1,98.1 730.6,99.0 729.1,100.0 727.6,100.9 726.1,101.8 724.6,102.8 723.1,103.7 721.6,104.6 720.1,105.6 718.6,106.5 717.1,107.4 715.6,108.4 714.1,109.3 712.6,110.2 711.1,111.2 709.6,112.1 708.1,113.1 706.6,114.0 705.1,114.9 703.6,115.9 702.1,116.8 700.6,117.8 699.1,118.7 697.6,119.7 696.1,120.7 694.6,121.6 693.1,122.6 691.6,123.6 690.1,124.5 688.6,125.5 687.1,126.5 685.6,127.4 684.1,128.4 682.6,129.4 681.1,130.4 679.6,131.4 678.1,132.4 676.6,133.4 675.1,134.4 673.6,135.4 672.1,136.4 670.6,137.4 669.1,138.5 667.6,139.5 666.1,140.5 664.6,141.5 663.1,142.6 661.6,143.6 660.1,144.6 658.6,145.7 657.1,146.7 655.6,147.8 654.1,148.8 652.6,149.9 651.1,150.9 649.6,152.0 648.1,153.1 646.6,154.1 645.1,155.2 643.6,156.3 642.1,157.4 640.6,158.5 639.1,159.6 637.6,160.7 636.1,161.8 634.6,162.9 633.1,164.0 631.6,165.1 630.1,166.2 628.6,167.3 627.1,168.4 625.6,169.5 624.1,170.6 622.6,171.7 621.1,172.9 619.6,174.0 618.1,175.1 616.6,176.2 615.1,177.4 613.6,178.5 612.1,179.6 610.6,180.8 609.1,181.9 607.6,183.1 606.1,184.2 604.6,185.4 603.1,186.6 601.6,187.7 600.1,188.9 598.6,190.0 597.1,191.2 595.6,192.4 594.1,193.6 592.6,194.7 591.1,195.9 589.6,197.1 588.1,198.3 586.6,199.5 585.1,200.7 583.6,201.9 582.1,203.1 580.6,204.3 579.1,205.5 577.6,206.7 576.1,207.9 574.6,209.1 573.1,210.3 571.6,211.5 570.1,212.7 568.6,213.9 567.1,215.1 565.6,216.3 564.1,217.5 562.6,218.7 561.1,219.9 559.6,221.1 558.1,222.3 556.6,223.5 555.1,224.7 553.6,225.9 552.1,227.1 550.6,228.4 549.1,229.6 547.6,230.8 546.1,232.0 544.6,233.2 543.1,234.5 541.6,235.7 540.1,237.0 538.6,238.2 537.1,239.5 535.6,240.7 534.1,242.0 532.6,243.2 531.1,244.5 529.6,245.8 528.1,247.0 526.6,248.3 525.1,249.5 523.6,250.8 522.1,252.1 520.6,253.3 519.1,254.6 517.6,255.9 516.1,257.1 514.6,258.4 513.1,259.7 511.6,260.9 510.1,262.2 508.6,263.4 507.1,264.7 505.6,266.0 504.1,267.2 502.6,268.5 501.1,269.7 499.6,271.0 498.1,272.2 496.6,273.5 495.1,274.7 493.6,276.0 492.1,277.2 490.6,278.5 489.1,279.7 487.6,281.0 486.1,282.2 484.6,283.5 483.1,284.7 481.6,286.0 480.1,287.2 478.6,288.5 477.1,289.7 475.6,291.0 474.1,292.2 472.6,293.5 471.1,294.7 469.6,296.0 468.1,297.2 466.6,298.4 465.1,299.7 463.6,300.9 462.1,302.2 460.6,303.4 459.1,304.7 457.6,305.9 456.1,307.2 454.6,308.5 453.1,309.7 451.6,310.9 450.1,312.1 448.6,313.4 447.1,314.6 445.6,315.8 444.1,317.0 442.6,318.2 441.1,319.4 439.6,320.6 438.1,321.6 436.6,322.7 435.1,323.7 433.6,324.8 432.1,326.1 430.6,327.6 429.1,329.1 427.6,330.6 426.1,332.1 424.6,333.4 423.1,334.8 421.6,336.1 420.1,337.4 418.6,338.6 417.1,339.6 415.6,340.7 414.1,341.7 412.6,342.8 411.1,344.0 409.6,345.2 408.1,346.4 406.6,347.6 405.1,349.0 403.6,350.5 402.1,352.0 400.6,353.5 399.1,355.0 397.6,356.5 396.1,358.0 394.6,359.5 393.1,361.0 391.6,362.2 390.1,363.2 388.6,364.3 387.1,365.3 385.6,366.5 384.1,368.0 382.6,369.5 381.1,371.0 379.6,372.5 378.1,373.8 376.6,375.2 375.1,376.5 373.6,377.9 372.1,379.2 370.6,380.5 369.1,381.7 367.6,383.0 366.1,384.2 364.6,385.6 363.1,387.0 361.6,388.4 360.1,389.8 358.6,391.2 357.1,392.6 355.6,394.0 354.1,395.4 352.6,396.7 351.1,398.0 349.6,399.2 348.1,400.5 346.6,401.8 345.1,402.7 345.1,403.2 344.6,403.2 344.3,403.7 344.1,403.7 343.8,404.3 343.3,404.3 343.1,404.9 342.6,404.9 342.3,405.5 341.8,405.5 341.6,406.1 341.3,406.1 341.1,406.6 340.6,406.6 340.3,407.2 340.1,407.2 339.8,407.8 339.3,407.8 339.1,408.3 338.8,408.3 338.6,408.9 338.1,408.9 337.8,409.6 337.3,409.6 337.1,410.3 336.6,410.3 336.3,410.9 335.8,410.9 335.6,411.4 335.1,411.4 334.8,412.0 334.6,412.0 334.3,412.5 333.8,412.5 333.6,413.0 333.1,413.0 332.8,413.7 332.3,413.7 332.1,414.4 331.3,414.4 331.1,415.1 330.3,415.1 330.1,415.7 329.8,415.7 329.6,416.3 329.1,416.3 328.8,417.0 328.3,417.0 328.1,417.8 327.3,417.8 327.1,418.5 326.8,418.5 326.6,419.1 326.1,419.1 325.8,419.8 325.3,419.8 325.1,420.5 324.3,420.5 324.1,421.4 323.3,421.4 323.1,422.2 322.3,422.2 322.1,423.0 321.6,423.0 321.3,423.8 320.6,423.8 320.3,424.8 319.6,424.8 319.3,425.6 318.6,425.6 318.3,426.5 317.6,426.5 317.3,427.5 316.3,427.5 316.1,428.4 315.6,428.4 315.3,429.1 314.6,429.1 314.3,429.8 313.8,429.8 313.6,430.5 312.8,430.5 312.6,431.3 311.8,431.3 311.6,432.0 311.1,432.0 310.8,432.7 310.1,432.7 309.8,433.4 309.1,433.4 308.8,434.2 308.1,434.2 307.8,435.0 306.8,435.0 306.6,435.8 305.8,435.8 305.6,436.4 305.1,436.4 304.8,437.0 304.1,437.0 303.8,437.8 302.8,437.8 302.6,438.5 302.1,438.5 301.8,439.1 300.8,439.1 300.6,440.0 299.6,440.0 299.3,440.8 298.6,440.8 298.3,441.5 297.8,441.5 297.6,442.1 296.8,442.1 296.6,442.9 295.6,442.9 295.3,443.8 294.6,443.8 294.3,444.8 293.1,444.8 292.8,445.7 292.1,445.7 291.8,446.6 290.8,446.6 290.6,447.4 289.8,447.4 289.6,448.1 289.1,448.1 288.8,448.7 288.3,448.7 288.1,449.4 287.3,449.4 287.1,450.1 286.6,450.1 286.3,450.9 285.3,450.9 285.1,451.6 284.6,451.6 284.3,452.3 283.6,452.3 283.3,453.2 282.6,453.2 282.3,454.2 281.1,454.2 280.8,455.4 279.6,455.4 279.3,456.4 278.3,456.4 278.1,457.3 277.3,457.3 277.1,458.2 276.1,458.2 275.8,459.1 275.1,459.1 274.8,460.2 273.6,460.2 273.3,461.5 272.1,461.5 271.8,462.8 270.6,462.8 270.3,464.1 269.3,464.1 269.1,465.1 268.1,465.1 267.8,466.2 266.6,466.2 266.3,467.7 264.8,467.7 264.6,469.0 263.3,469.0 263.1,470.0 262.3,470.0 262.1,470.9 260.8,470.9 260.6,471.7 259.3,471.7 259.1,472.4 258.3,472.4 258.1,473.1 257.1,473.1 256.8,473.9 256.1,473.9 255.8,474.7 254.8,474.7 254.6,475.7 253.8,475.7 253.6,476.8 252.3,476.8 252.1,477.8 251.3,477.8 251.1,478.6 250.3,478.6 250.1,479.8 248.6,479.8 248.3,481.3 247.3,481.3 247.1,482.7 245.8,482.7 245.6,484.1 244.1,484.1 243.8,485.3 243.3,485.3 243.1,486.4 242.1,486.4 241.8,488.3 240.3,488.3 240.1,490.8 238.6,490.8 238.3,492.8 237.3,492.8 237.1,494.3 235.8,494.3 235.6,495.9 234.3,495.9 234.1,497.6 232.6,497.6 232.3,499.0 231.6,499.0 231.3,500.6 229.6,500.6 229.3,502.2 227.8,502.2 227.6,503.5 225.8,503.5 225.6,504.7 224.6,504.7 224.3,505.5 223.6,505.5 223.3,507.1 222.1,507.1 221.8,509.4 219.8,509.4 219.6,511.7 218.6,511.7 218.3,512.4 217.1,512.4 216.8,512.2 214.8,512.2 214.6,516.8 212.6,516.8 212.3,518.9 211.6,518.9 211.3,520.2 210.1,520.2 209.8,521.9 208.3,521.9 208.1,523.6 206.8,523.6 206.6,525.5 204.3,525.5 204.1,527.4 202.8,527.4 202.6,529.0 200.8,529.0 200.6,530.2 198.8,530.2 198.6,531.2 197.6,531.2 197.3,532.3 195.1,532.3 194.8,533.8 192.6,533.8 192.3,535.0 191.1,535.0 190.8,535.8 189.8,535.8 189.6,536.6 188.6,536.6 188.3,538.8 186.6,538.8 186.3,541.4 184.8,541.4 184.6,543.3 182.3,543.3 182.1,545.1 181.1,545.1 180.8,545.9 179.3,545.9 179.1,546.0 177.6,546.0 177.3,546.1 174.6,546.1 174.3,548.0 172.6,548.0 172.3,550.4 171.1,550.4 170.8,552.6 169.6,552.6 169.3,555.4 166.8,555.4 166.6,559.0 164.3,559.0 164.1,562.1 161.8,562.1 161.6,564.9 159.3,564.9 159.1,566.8 157.3,566.8 157.1,567.8 155.6,567.8 155.3,568.6 153.8,568.6 153.6,569.4 152.6,569.4 152.3,570.1 151.1,570.1 150.8,571.0 148.1,571.0 147.8,572.0 146.6,572.0 146.3,572.9 143.8,572.9 143.6,576.5 141.6,576.5 141.3,580.4 138.8,580.4 138.6,585.8 135.6,585.8 135.3,590.6 133.6,590.6 133.3,595.5 130.3,595.5 130.1,600.1 128.8,600.1" fill="#000" fill-opacity="1"/>
<path d="M84.43,330.81L795.90,15.74" stroke="#0000ff" stroke-width="4.4" stroke-dasharray="16.28 7.04" fill="none"/>
<path d="M138.5,602.7L795.90,20.45" stroke="#000" stroke-width="4.4" stroke-dasharray="16.28 7.04" fill="none"/>
</g>
<path d="M134.80,649.6v4.9M134.8,635.60h-4.9M298.82,649.6v4.9M134.8,490.33h-4.9M462.85,649.6v4.9M134.8,345.05h-4.9M626.88,649.6v4.9M134.8,199.78h-4.9M790.90,649.6v4.9M134.8,54.50h-4.9" stroke="#000" stroke-width="1.1" fill="none"/>
<path d="M134.8,649.68h-2.8M134.8,642.25h-2.8M184.18,649.6v2.8M134.8,591.87h-2.8M213.06,649.6v2.8M134.8,566.29h-2.8M233.55,649.6v2.8M134.8,548.14h-2.8M249.45,649.6v2.8M134.8,534.06h-2.8M262.44,649.6v2.8M134.8,522.55h-2.8M273.42,649.6v2.8M134.8,512.83h-2.8M282.93,649.6v2.8M134.8,504.40h-2.8M291.32,649.6v2.8M134.8,496.97h-2.8M348.20,649.6v2.8M134.8,446.59h-2.8M377.08,649.6v2.8M134.8,421.01h-2.8M397.58,649.6v2.8M134.8,402.86h-2.8M413.47,649.6v2.8M134.8,388.78h-2.8M426.46,649.6v2.8M134.8,377.28h-2.8M437.44,649.6v2.8M134.8,367.55h-2.8M446.95,649.6v2.8M134.8,359.13h-2.8M455.34,649.6v2.8M134.8,351.70h-2.8M512.23,649.6v2.8M134.8,301.32h-2.8M541.11,649.6v2.8M134.8,275.74h-2.8M561.60,649.6v2.8M134.8,257.59h-2.8M577.50,649.6v2.8M134.8,243.51h-2.8M590.49,649.6v2.8M134.8,232.00h-2.8M601.47,649.6v2.8M134.8,222.28h-2.8M610.98,649.6v2.8M134.8,213.85h-2.8M619.37,649.6v2.8M134.8,206.42h-2.8M676.25,649.6v2.8M134.8,156.04h-2.8M705.13,649.6v2.8M134.8,130.46h-2.8M725.63,649.6v2.8M134.8,112.31h-2.8M741.52,649.6v2.8M134.8,98.23h-2.8M754.51,649.6v2.8M134.8,86.73h-2.8M765.49,649.6v2.8M134.8,77.00h-2.8M775.00,649.6v2.8M134.8,68.58h-2.8M783.39,649.6v2.8M134.8,61.15h-2.8M134.8,10.77h-2.8" stroke="#000" stroke-width="0.85" fill="none"/>
<rect x="134.8" y="10.4" width="656.10" height="639.20" fill="none" stroke="#000" stroke-width="1.1"/>
<rect x="459.5" y="337.8" width="318.50" height="298.20" rx="4.5" ry="4.5" fill="#fff" fill-opacity="0.8" stroke="#ccc" stroke-opacity="0.8" stroke-width="1.4"/>
<rect x="469.40" y="349.80" width="53.00" height="18.10" fill="none" stroke="#0000ff" stroke-opacity="1" stroke-width="4.60"/>
<rect x="469.40" y="392.80" width="53.00" height="18.10" fill="none" stroke="#ff7f0e" stroke-opacity="0.5" stroke-width="4.60"/>
<rect x="469.40" y="435.50" width="53.00" height="18.10" fill="none" stroke="#2ca02c" stroke-opacity="0.5" stroke-width="4.60"/>
<rect x="469.40" y="478.20" width="53.00" height="18.10" fill="none" stroke="#d62728" stroke-opacity="0.5" stroke-width="4.60"/>
<rect x="469.40" y="520.80" width="53.00" height="18.10" fill="none" stroke="#9467bd" stroke-opacity="0.5" stroke-width="4.60"/>
<rect x="469.40" y="563.50" width="53.00" height="18.10" fill="none" stroke="#8c564b" stroke-opacity="0.5" stroke-width="4.60"/>
<rect x="469.40" y="602.20" width="53.00" height="18.10" fill="none" stroke="#000000" stroke-opacity="1" stroke-width="4.60"/>
<g fill="#000" stroke="#000" stroke-width="0.45" stroke-linejoin="round">
<text transform="translate(66.66,66.80) scale(1.0569,1)" font-size="35.30">10</text>
<text transform="translate(108.67,54.00) scale(0.9655,1)" font-size="24.70">0</text>
<text transform="translate(47.96,212.08) scale(1.0569,1)" font-size="35.30">10</text>
<text transform="translate(90.04,200.28) scale(1.2000,1)" font-size="24.70" stroke-width="1.0">−</text>
<text transform="translate(109.09,199.08) scale(0.9108,1)" font-size="24.70">1</text>
<text transform="translate(47.96,357.35) scale(1.0569,1)" font-size="35.30">10</text>
<text transform="translate(90.04,345.55) scale(1.2000,1)" font-size="24.70" stroke-width="1.0">−</text>
<text transform="translate(108.19,344.35) scale(0.9776,1)" font-size="24.70">2</text>
<text transform="translate(47.96,502.63) scale(1.0569,1)" font-size="35.30">10</text>
<text transform="translate(90.04,490.83) scale(1.2000,1)" font-size="24.70" stroke-width="1.0">−</text>
<text transform="translate(108.59,489.63) scale(0.9649,1)" font-size="24.70">3</text>
<text transform="translate(47.96,647.90) scale(1.0569,1)" font-size="35.30">10</text>
<text transform="translate(90.04,636.10) scale(1.2000,1)" font-size="24.70" stroke-width="1.0">−</text>
<text transform="translate(108.33,634.90) scale(1.0123,1)" font-size="24.70">4</text>
<text transform="translate(762.36,684.40) scale(1.0569,1)" font-size="35.30">10</text>
<text transform="translate(804.37,671.60) scale(0.9655,1)" font-size="24.70">0</text>
<text transform="translate(588.63,684.40) scale(1.0569,1)" font-size="35.30">10</text>
<text transform="translate(630.71,672.60) scale(1.2000,1)" font-size="24.70" stroke-width="1.0">−</text>
<text transform="translate(649.76,671.40) scale(0.9108,1)" font-size="24.70">1</text>
<text transform="translate(424.61,684.40) scale(1.0569,1)" font-size="35.30">10</text>
<text transform="translate(466.69,672.60) scale(1.2000,1)" font-size="24.70" stroke-width="1.0">−</text>
<text transform="translate(484.84,671.40) scale(0.9776,1)" font-size="24.70">2</text>
<text transform="translate(260.58,684.40) scale(1.0569,1)" font-size="35.30">10</text>
<text transform="translate(302.66,672.60) scale(1.2000,1)" font-size="24.70" stroke-width="1.0">−</text>
<text transform="translate(321.22,671.40) scale(0.9649,1)" font-size="24.70">3</text>
<text transform="translate(96.56,684.40) scale(1.0569,1)" font-size="35.30">10</text>
<text transform="translate(138.64,672.60) scale(1.2000,1)" font-size="24.70" stroke-width="1.0">−</text>
<text transform="translate(156.93,671.40) scale(1.0123,1)" font-size="24.70">4</text>
<text transform="translate(35.40,363.22) rotate(-90) scale(0.9028,1)" font-size="35.30">CDF</text>
<text transform="translate(422.43,720.20) scale(1.1507,1)" font-size="35.00" font-style="italic" stroke-width="0.05">r</text>
<text transform="translate(436.24,725.70) scale(1.1118,1)" font-size="23.20">p</text>
<text transform="translate(450.80,722.80) scale(1.0937,1)" font-size="36.20" stroke-width="0.1">/</text>
<text transform="translate(461.84,720.20) scale(0.8414,1)" font-size="33.10" font-style="italic" stroke-width="0.8">R</text>
<text transform="translate(484.00,725.60) scale(1.0494,1)" font-size="23.20">H</text>
<text transform="translate(543.30,366.80) scale(1.1115,1)" font-size="27.50">coplanar,</text>
<text transform="translate(675.53,366.80) scale(1.0503,1)" font-size="27.50" font-style="italic">i</text>
<text transform="translate(687.14,366.80) scale(1.5344,1)" font-size="27.50">=</text>
<text transform="translate(715.10,366.80) scale(1.0269,1)" font-size="27.50">0</text>
<text transform="translate(543.93,409.80) scale(1.0503,1)" font-size="27.50" font-style="italic">i</text>
<text transform="translate(556.74,409.80) scale(1.3098,1)" font-size="27.50">=</text>
<text transform="translate(583.96,409.80) scale(1.0686,1)" font-size="27.50">10</text>
<text transform="translate(618.03,400.40) scale(1.2524,1)" font-size="18.90" stroke-width="0.8">−</text>
<text transform="translate(633.57,399.80) scale(0.9709,1)" font-size="18.90">5</text>
<text transform="translate(645.39,409.80) scale(0.8422,1)" font-size="27.50" font-style="italic" stroke-width="0.7">R</text>
<text transform="translate(664.01,413.80) scale(1.1112,1)" font-size="17.40">H</text>
<text transform="translate(678.30,412.50) scale(1.1404,1)" font-size="30.30" stroke-width="0.15">/</text>
<text transform="translate(688.32,409.80) scale(0.9464,1)" font-size="27.50" font-style="italic">a</text>
<text transform="translate(704.42,413.60) scale(0.8222,1)" font-size="18.90">1</text>
<text transform="translate(543.93,452.50) scale(1.0503,1)" font-size="27.50" font-style="italic">i</text>
<text transform="translate(556.74,452.50) scale(1.3098,1)" font-size="27.50">=</text>
<text transform="translate(583.96,452.50) scale(1.0686,1)" font-size="27.50">10</text>
<text transform="translate(618.03,443.10) scale(1.2524,1)" font-size="18.90" stroke-width="0.8">−</text>
<text transform="translate(633.35,442.50) scale(1.0290,1)" font-size="18.90">4</text>
<text transform="translate(645.39,452.50) scale(0.8422,1)" font-size="27.50" font-style="italic" stroke-width="0.7">R</text>
<text transform="translate(664.01,456.50) scale(1.1112,1)" font-size="17.40">H</text>
<text transform="translate(678.30,455.20) scale(1.1404,1)" font-size="30.30" stroke-width="0.15">/</text>
<text transform="translate(688.32,452.50) scale(0.9464,1)" font-size="27.50" font-style="italic">a</text>
<text transform="translate(704.42,456.30) scale(0.8222,1)" font-size="18.90">1</text>
<text transform="translate(543.93,495.20) scale(1.0503,1)" font-size="27.50" font-style="italic">i</text>
<text transform="translate(556.74,495.20) scale(1.3098,1)" font-size="27.50">=</text>
<text transform="translate(583.96,495.20) scale(1.0686,1)" font-size="27.50">10</text>
<text transform="translate(618.03,485.80) scale(1.2524,1)" font-size="18.90" stroke-width="0.8">−</text>
<text transform="translate(633.60,485.20) scale(0.9709,1)" font-size="18.90">3</text>
<text transform="translate(645.39,495.20) scale(0.8422,1)" font-size="27.50" font-style="italic" stroke-width="0.7">R</text>
<text transform="translate(664.01,499.20) scale(1.1112,1)" font-size="17.40">H</text>
<text transform="translate(678.30,497.90) scale(1.1404,1)" font-size="30.30" stroke-width="0.15">/</text>
<text transform="translate(688.32,495.20) scale(0.9464,1)" font-size="27.50" font-style="italic">a</text>
<text transform="translate(704.42,499.00) scale(0.8222,1)" font-size="18.90">1</text>
<text transform="translate(543.93,537.80) scale(1.0503,1)" font-size="27.50" font-style="italic">i</text>
<text transform="translate(556.74,537.80) scale(1.3098,1)" font-size="27.50">=</text>
<text transform="translate(583.96,537.80) scale(1.0686,1)" font-size="27.50">10</text>
<text transform="translate(618.03,528.40) scale(1.2524,1)" font-size="18.90" stroke-width="0.8">−</text>
<text transform="translate(633.25,527.80) scale(0.9988,1)" font-size="18.90">2</text>
<text transform="translate(645.39,537.80) scale(0.8422,1)" font-size="27.50" font-style="italic" stroke-width="0.7">R</text>
<text transform="translate(664.01,541.80) scale(1.1112,1)" font-size="17.40">H</text>
<text transform="translate(678.30,540.50) scale(1.1404,1)" font-size="30.30" stroke-width="0.15">/</text>
<text transform="translate(688.32,537.80) scale(0.9464,1)" font-size="27.50" font-style="italic">a</text>
<text transform="translate(704.42,541.60) scale(0.8222,1)" font-size="18.90">1</text>
<text transform="translate(543.93,580.50) scale(1.0503,1)" font-size="27.50" font-style="italic">i</text>
<text transform="translate(556.74,580.50) scale(1.3098,1)" font-size="27.50">=</text>
<text transform="translate(583.96,580.50) scale(1.0686,1)" font-size="27.50">10</text>
<text transform="translate(618.03,571.10) scale(1.2524,1)" font-size="18.90" stroke-width="0.8">−</text>
<text transform="translate(634.05,570.50) scale(0.8713,1)" font-size="18.90">1</text>
<text transform="translate(645.39,580.50) scale(0.8422,1)" font-size="27.50" font-style="italic" stroke-width="0.7">R</text>
<text transform="translate(664.01,584.50) scale(1.1112,1)" font-size="17.40">H</text>
<text transform="translate(678.30,583.20) scale(1.1404,1)" font-size="30.30" stroke-width="0.15">/</text>
<text transform="translate(688.32,580.50) scale(0.9464,1)" font-size="27.50" font-style="italic">a</text>
<text transform="translate(704.42,584.30) scale(0.8222,1)" font-size="18.90">1</text>
<text transform="translate(543.76,619.20) scale(1.1175,1)" font-size="27.50">fiducial,</text>
<text transform="translate(656.33,619.20) scale(1.0662,1)" font-size="27.50" font-style="italic">i</text>
<text transform="translate(667.89,619.20) scale(1.3472,1)" font-size="27.50">=</text>
<text transform="translate(695.69,619.20) scale(0.8422,1)" font-size="27.50" font-style="italic" stroke-width="0.7">R</text>
<text transform="translate(714.31,623.20) scale(1.1112,1)" font-size="17.40">H</text>
<text transform="translate(728.60,621.90) scale(1.1404,1)" font-size="30.30" stroke-width="0.15">/</text>
<text transform="translate(738.62,619.20) scale(0.9464,1)" font-size="27.50" font-style="italic">a</text>
<text transform="translate(754.72,623.00) scale(0.8222,1)" font-size="18.90">1</text>
</g>
</svg>
</body></html>
